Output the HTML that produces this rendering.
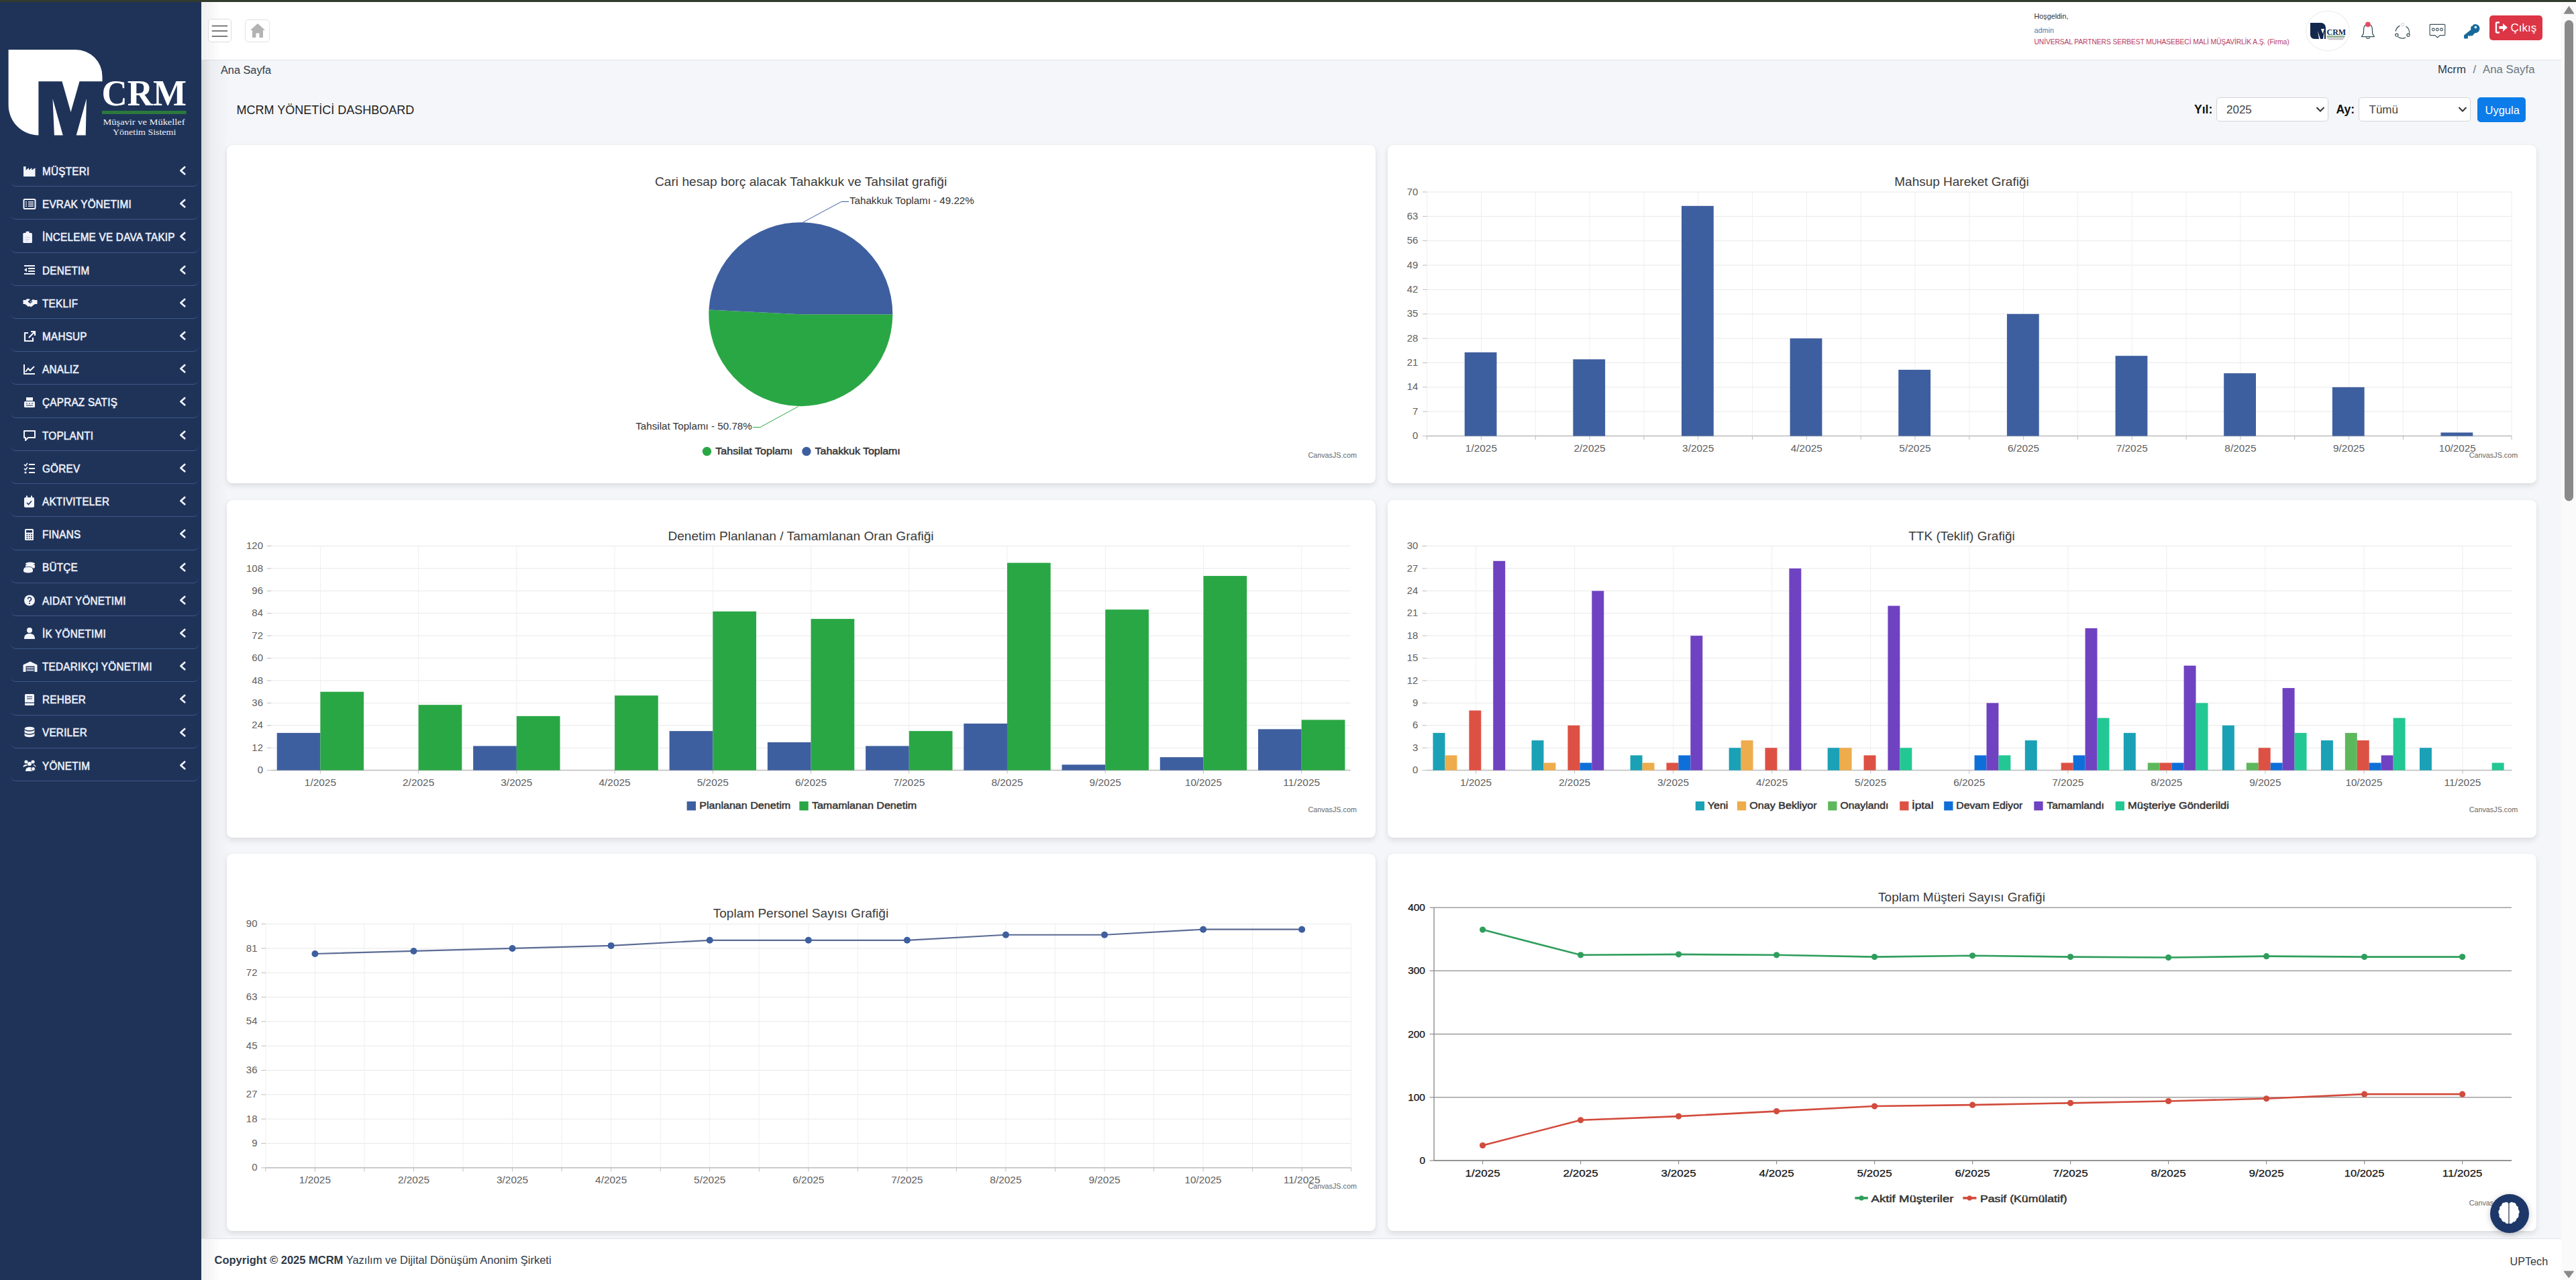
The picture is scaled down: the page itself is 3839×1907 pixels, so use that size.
<!DOCTYPE html>
<html lang="tr"><head><meta charset="utf-8"><title>MCRM</title>
<style>
*{box-sizing:border-box}
html,body{margin:0;padding:0}
body{width:3839px;height:1907px;overflow:hidden;position:relative;background:#f4f6f9;font-family:"Liberation Sans",sans-serif;}
.abs{position:absolute}
#topbar{position:absolute;left:0;top:0;width:3839px;height:3px;background:#313b2e}
#sidebar{position:absolute;left:0;top:3px;width:300px;height:1904px;background:#1f3359}
#sshadow{position:absolute;left:300px;top:90px;width:42px;height:1755px;background:linear-gradient(to right,rgba(0,0,0,.12),rgba(0,0,0,.035) 35%,rgba(0,0,0,0))}
#hshadow{position:absolute;left:300px;top:3px;width:30px;height:87px;background:linear-gradient(to right,rgba(0,0,0,.06),rgba(0,0,0,0))}
#fshadow{position:absolute;left:300px;top:1846px;width:30px;height:61px;background:linear-gradient(to right,rgba(0,0,0,.06),rgba(0,0,0,0))}
.mi{position:absolute;left:62.6px;height:20px;line-height:20px;font-size:16px;font-weight:normal;-webkit-text-stroke:0.55px #eef2fb;color:#eef2fb;white-space:nowrap;letter-spacing:0.25px;transform:scaleX(0.955);transform-origin:0 50%}
.sep{position:absolute;left:16px;width:280px;height:8px;border-bottom:1.3px solid #3d5787;border-radius:0 0 8px 8px}
.chev{position:absolute;left:266px}
.ico{position:absolute;left:34px}
#header{position:absolute;left:300px;top:3px;width:3517px;height:87px;background:#fff;border-bottom:1.5px solid #dfe2e6}
.card{position:absolute;background:#fff;border-radius:8px;box-shadow:0 0 1px rgba(0,0,0,.13),0 4px 9px rgba(0,0,0,.10)}
#footer{position:absolute;left:300px;top:1845px;width:3517px;height:62px;background:#fff;border-top:1.5px solid #dfe2e6}
#scroll{position:absolute;left:3817px;top:3px;width:22px;height:1904px;background:#fafafa}
#charts{position:absolute;left:0;top:0}
#charts text{font-family:"Liberation Sans",sans-serif}
.sel{position:absolute;top:145.4px;height:36px;width:167px;background:#fff;border:1.3px solid #d3d6da;border-radius:5px}
</style></head><body>
<div id="topbar"></div>
<div id="header"></div>
<div id="footer"></div>
<div id="sshadow"></div><div id="hshadow"></div><div id="fshadow"></div>

<!-- header left buttons -->
<div class="abs" style="left:310px;top:28px;width:35px;height:35px;border:1.3px solid #dcdcdc;border-radius:5px;background:#fff"></div>
<svg class="abs" style="left:310px;top:28px" width="35" height="35" viewBox="0 0 35 35"><path d="M5.7,10.6h23.4M5.7,18.1h23.4M5.7,26.1h23.4" stroke="#6a6a6a" stroke-width="1.7"/></svg>
<div class="abs" style="left:365px;top:29px;width:37px;height:34px;border:1.3px solid #e2e2e2;border-radius:5px;background:#fff"></div>
<svg class="abs" style="left:372px;top:34px" width="24" height="23" viewBox="0 0 24 23"><path d="M12,1 L1,11 H4 V22 H9.5 V15.5 H14.5 V22 H20 V11 H23z" fill="#b3b3b3"/></svg>

<!-- user block -->
<div class="abs" style="left:3031.5px;top:17.2px;font-size:10.8px;color:#333;line-height:14px;white-space:nowrap">Hoşgeldin,</div>
<div class="abs" style="left:3031.5px;top:37.5px;font-size:10.8px;color:#3a84b8;line-height:14px;white-space:nowrap">admin</div>
<div class="abs" style="left:3031.5px;top:56px;font-size:10.35px;color:#b93a5e;line-height:14px;white-space:nowrap;letter-spacing:-0.13px">UNİVERSAL PARTNERS SERBEST MUHASEBECİ MALİ MÜŞAVİRLİK A.Ş. (Firma)</div>

<!-- avatar -->
<div class="abs" style="left:3436px;top:16px;width:66px;height:60px;border-radius:50%;border:1.3px solid #ececec;background:#fff"></div>
<svg class="abs" style="left:3440px;top:30px" width="58" height="32" viewBox="0 0 58 32">
<path d="M3,4 H19 A7,7 0 0 1 26,11 V13 H11 V28 H9 A6,6 0 0 1 3,22z" fill="#14284d"/>
<path d="M11,13 H26 V28 H11z" fill="#14284d"/>
<path d="M14,16 L16,28 H18z M19,13 L21.5,20 L24,13z M24,16 L22,28 H24z" fill="#fff"/>
<text x="27.5" y="22" font-family="Liberation Serif" font-size="12" font-weight="bold" fill="#14284d">CRM</text>
<rect x="27.5" y="23.5" width="27" height="1.2" fill="#2d7a3a"/>
<rect x="28" y="26" width="26" height="0.9" fill="#777"/><rect x="30" y="28.3" width="22" height="0.9" fill="#999"/>
</svg>

<!-- header icons -->
<svg class="abs" style="left:3516px;top:31px" width="26" height="28" viewBox="0 0 26 28">
<path d="M3.4,23.5 L6.3,19.2 C6.6,15.5 6.4,11.5 7.1,9.6 C8,6.8 10.4,5.2 13,5.2 C15.6,5.2 18,6.8 18.9,9.6 C19.6,11.5 19.4,15.5 19.7,19.2 L22.4,23.5 Z" fill="none" stroke="#34505a" stroke-width="1.25" stroke-linejoin="round"/>
<path d="M10.2,24.6 A2.9,2.4 0 0 0 15.8,24.6" fill="none" stroke="#34505a" stroke-width="1.25"/>
<circle cx="12.9" cy="5.4" r="3.8" fill="#e84a64"/></svg>
<svg class="abs" style="left:3566px;top:31px" width="28" height="29" viewBox="0 0 28 29">
<path d="M4.2,15.7 A11,11 0 0 1 10.4,7.4 M19.5,8.2 A11,11 0 0 1 24.6,18.8 M7.7,23.9 Q13.5,27.6 19,25.1" fill="none" stroke="#3b5058" stroke-width="1.2"/>
<circle cx="14.5" cy="5.6" r="2.2" fill="none" stroke="#d8dde2" stroke-width="1.2"/>
<circle cx="5.8" cy="21.2" r="2.1" fill="#fff" stroke="#3b5058" stroke-width="1.2"/>
<circle cx="23" cy="21.2" r="2.1" fill="#fff" stroke="#3b5058" stroke-width="1.2"/></svg>
<svg class="abs" style="left:3619px;top:34px" width="28" height="25" viewBox="0 0 28 25">
<path d="M3.3,2.3 H23.6 A1.2,1.2 0 0 1 24.8,3.5 V17.4 A1.2,1.2 0 0 1 23.6,18.6 H17.3 L13.5,22 L9.7,18.6 H3.3 A1.2,1.2 0 0 1 2.1,17.4 V3.5 A1.2,1.2 0 0 1 3.3,2.3z" fill="none" stroke="#3d5058" stroke-width="1.15"/>
<circle cx="7.3" cy="10" r="1.9" fill="none" stroke="#3d5058" stroke-width="1.1"/><circle cx="13.3" cy="10" r="1.9" fill="none" stroke="#3d5058" stroke-width="1.1"/><circle cx="19.5" cy="10" r="1.9" fill="none" stroke="#3d5058" stroke-width="1.1"/></svg>
<svg class="abs" style="left:3670px;top:33px" width="28" height="26" viewBox="0 0 28 26">
<circle cx="18.8" cy="9.6" r="6.7" fill="#17699b"/>
<path d="M12.6,11 L18.2,16.6 L13.8,21 L12.3,19.5 L10.5,21.3 L9,19.8 L7.9,20.9 V24.6 H2.1 V19.4 z" fill="#17699b"/>
<circle cx="19.4" cy="7.6" r="1.9" fill="#dff4fa"/><circle cx="13.2" cy="3.2" r="2.6" fill="#fff"/></svg>
<div class="abs" style="left:3710px;top:23px;width:79px;height:37px;background:#dc3545;border-radius:5px"></div>
<svg class="abs" style="left:3718px;top:31px" width="21" height="20" viewBox="0 0 21 20">
<path d="M7,2.5 H3.5 A1.5,1.5 0 0 0 2,4 V16 A1.5,1.5 0 0 0 3.5,17.5 H7" fill="none" stroke="#fff" stroke-width="2.4"/>
<path d="M6.5,8 H12 V4 L19,10 L12,16 V12 H6.5z" fill="#fff"/></svg>
<div class="abs" style="left:3741.5px;top:30.5px;font-size:17px;line-height:22px;color:#fff;white-space:nowrap">Çıkış</div>

<!-- breadcrumb & title -->
<div class="abs" style="left:329px;top:94px;font-size:16.3px;line-height:20px;color:#2e3b4a;white-space:nowrap">Ana Sayfa</div>
<div class="abs" style="left:3633px;top:93.5px;font-size:16.8px;line-height:20px;color:#2e3b4a;white-space:nowrap">Mcrm <span style="color:#6c757d;padding:0 6px">/</span> <span style="color:#6c757d">Ana Sayfa</span></div>
<div class="abs" style="left:352.5px;top:152px;font-size:18px;line-height:24px;color:#222;white-space:nowrap">MCRM YÖNETİCİ DASHBOARD</div>

<!-- filters -->
<div class="abs" style="left:3270px;top:151.5px;font-size:17.6px;font-weight:bold;line-height:22px;color:#111;white-space:nowrap">Yıl:</div>
<div class="sel" style="left:3303.4px"></div>
<div class="abs" style="left:3318px;top:153px;font-size:17px;line-height:22px;color:#444;white-space:nowrap">2025</div>
<svg class="abs" style="left:3451px;top:158px" width="14" height="10" viewBox="0 0 14 10"><path d="M1.5,2 L7,7.5 L12.5,2" fill="none" stroke="#333" stroke-width="2"/></svg>
<div class="abs" style="left:3481.5px;top:151.5px;font-size:17.6px;font-weight:bold;line-height:22px;color:#111;white-space:nowrap">Ay:</div>
<div class="sel" style="left:3515.4px"></div>
<div class="abs" style="left:3530.5px;top:153px;font-size:17px;line-height:22px;color:#444;white-space:nowrap">Tümü</div>
<svg class="abs" style="left:3663px;top:158px" width="14" height="10" viewBox="0 0 14 10"><path d="M1.5,2 L7,7.5 L12.5,2" fill="none" stroke="#333" stroke-width="2"/></svg>
<div class="abs" style="left:3692px;top:145px;width:71.5px;height:36.7px;background:#0b7ce9;border-radius:5px"></div>
<div class="abs" style="left:3703.5px;top:152.5px;font-size:16.5px;line-height:22px;color:#fff;white-space:nowrap">Uygula</div>

<!-- cards -->
<div class="card" style="left:337.5px;top:215.5px;width:1712px;height:504px"></div>
<div class="card" style="left:2068px;top:215.5px;width:1711.5px;height:504px"></div>
<div class="card" style="left:337.5px;top:744.7px;width:1712px;height:503px"></div>
<div class="card" style="left:2068px;top:744.7px;width:1711.5px;height:503px"></div>
<div class="card" style="left:337.5px;top:1271.8px;width:1712px;height:562px"></div>
<div class="card" style="left:2068px;top:1271.8px;width:1711.5px;height:562px"></div>

<svg id="charts" width="3839" height="1907" viewBox="0 0 3839 1907" shape-rendering="auto">
<text x="975.9" y="276.7" font-size="19" fill="#3b3b3b" text-anchor="start" font-weight="normal" textLength="435.4" lengthAdjust="spacingAndGlyphs">Cari hesap borç alacak Tahakkuk ve Tahsilat grafiği</text>
<path d="M1193.3,468.2 L1330.3,468.2 A137,137 0 1 1 1056.46,461.51 Z" fill="#2aa745"/>
<path d="M1193.3,468.2 L1056.46,461.51 A137,137 0 0 1 1330.3,468.2 Z" fill="#3e5f9f"/>
<polyline points="1196.6,331.2 1253.9,300.5 1265,300.5" fill="none" stroke="#3e5f9f" stroke-width="1"/>
<polyline points="1189.4,605.8 1132.9,636.5 1121.8,636.5" fill="none" stroke="#2aa745" stroke-width="1"/>
<text x="1266" y="304.2" font-size="15.3" fill="#333" text-anchor="start" font-weight="normal" textLength="185.7" lengthAdjust="spacingAndGlyphs">Tahakkuk Toplamı - 49.22%</text>
<text x="947.2" y="640" font-size="15.3" fill="#333" text-anchor="start" font-weight="normal" textLength="173.6" lengthAdjust="spacingAndGlyphs">Tahsilat Toplamı - 50.78%</text>
<circle cx="1053.5" cy="672.5" r="6.7" fill="#2aa745"/>
<circle cx="1201.9" cy="672.5" r="6.7" fill="#3e5f9f"/>
<text x="1066.3" y="677.3" font-size="15.5" fill="#333" text-anchor="start" font-weight="normal" textLength="115" lengthAdjust="spacingAndGlyphs" stroke="#333" stroke-width="0.5">Tahsilat Toplamı</text>
<text x="1214.6" y="677.3" font-size="15.5" fill="#333" text-anchor="start" font-weight="normal" textLength="127.2" lengthAdjust="spacingAndGlyphs" stroke="#333" stroke-width="0.5">Tahakkuk Toplamı</text>
<text x="1949.4" y="681.5" font-size="10.8" fill="#666" text-anchor="start" font-weight="normal" textLength="72.5" lengthAdjust="spacingAndGlyphs">CanvasJS.com</text>
<text x="2823.3" y="276.7" font-size="19" fill="#3b3b3b" text-anchor="start" font-weight="normal" textLength="200.4" lengthAdjust="spacingAndGlyphs">Mahsup Hareket Grafiği</text>
<line x1="2126.6" y1="649.6" x2="3743" y2="649.6" stroke="#e8e8e8" stroke-width="1"/>
<line x1="2126.6" y1="613.24" x2="3743" y2="613.24" stroke="#e8e8e8" stroke-width="1"/>
<line x1="2126.6" y1="576.88" x2="3743" y2="576.88" stroke="#e8e8e8" stroke-width="1"/>
<line x1="2126.6" y1="540.52" x2="3743" y2="540.52" stroke="#e8e8e8" stroke-width="1"/>
<line x1="2126.6" y1="504.16" x2="3743" y2="504.16" stroke="#e8e8e8" stroke-width="1"/>
<line x1="2126.6" y1="467.8" x2="3743" y2="467.8" stroke="#e8e8e8" stroke-width="1"/>
<line x1="2126.6" y1="431.44" x2="3743" y2="431.44" stroke="#e8e8e8" stroke-width="1"/>
<line x1="2126.6" y1="395.08" x2="3743" y2="395.08" stroke="#e8e8e8" stroke-width="1"/>
<line x1="2126.6" y1="358.72" x2="3743" y2="358.72" stroke="#e8e8e8" stroke-width="1"/>
<line x1="2126.6" y1="322.36" x2="3743" y2="322.36" stroke="#e8e8e8" stroke-width="1"/>
<line x1="2126.6" y1="286" x2="3743" y2="286" stroke="#e8e8e8" stroke-width="1"/>
<line x1="2126.6" y1="286" x2="2126.6" y2="649.6" stroke="#efefef" stroke-width="1"/>
<line x1="2207.42" y1="286" x2="2207.42" y2="649.6" stroke="#efefef" stroke-width="1"/>
<line x1="2288.24" y1="286" x2="2288.24" y2="649.6" stroke="#efefef" stroke-width="1"/>
<line x1="2369.06" y1="286" x2="2369.06" y2="649.6" stroke="#efefef" stroke-width="1"/>
<line x1="2449.88" y1="286" x2="2449.88" y2="649.6" stroke="#efefef" stroke-width="1"/>
<line x1="2530.7" y1="286" x2="2530.7" y2="649.6" stroke="#efefef" stroke-width="1"/>
<line x1="2611.52" y1="286" x2="2611.52" y2="649.6" stroke="#efefef" stroke-width="1"/>
<line x1="2692.34" y1="286" x2="2692.34" y2="649.6" stroke="#efefef" stroke-width="1"/>
<line x1="2773.16" y1="286" x2="2773.16" y2="649.6" stroke="#efefef" stroke-width="1"/>
<line x1="2853.98" y1="286" x2="2853.98" y2="649.6" stroke="#efefef" stroke-width="1"/>
<line x1="2934.8" y1="286" x2="2934.8" y2="649.6" stroke="#efefef" stroke-width="1"/>
<line x1="3015.62" y1="286" x2="3015.62" y2="649.6" stroke="#efefef" stroke-width="1"/>
<line x1="3096.44" y1="286" x2="3096.44" y2="649.6" stroke="#efefef" stroke-width="1"/>
<line x1="3177.26" y1="286" x2="3177.26" y2="649.6" stroke="#efefef" stroke-width="1"/>
<line x1="3258.08" y1="286" x2="3258.08" y2="649.6" stroke="#efefef" stroke-width="1"/>
<line x1="3338.9" y1="286" x2="3338.9" y2="649.6" stroke="#efefef" stroke-width="1"/>
<line x1="3419.72" y1="286" x2="3419.72" y2="649.6" stroke="#efefef" stroke-width="1"/>
<line x1="3500.54" y1="286" x2="3500.54" y2="649.6" stroke="#efefef" stroke-width="1"/>
<line x1="3581.36" y1="286" x2="3581.36" y2="649.6" stroke="#efefef" stroke-width="1"/>
<line x1="3662.18" y1="286" x2="3662.18" y2="649.6" stroke="#efefef" stroke-width="1"/>
<line x1="3743" y1="286" x2="3743" y2="649.6" stroke="#efefef" stroke-width="1"/>
<text x="2113.4" y="654.2" font-size="15" fill="#606060" text-anchor="end" font-weight="normal">0</text>
<line x1="2120.1" y1="649.6" x2="2126.6" y2="649.6" stroke="#bdbdbd" stroke-width="1"/>
<text x="2113.4" y="617.84" font-size="15" fill="#606060" text-anchor="end" font-weight="normal">7</text>
<line x1="2120.1" y1="613.24" x2="2126.6" y2="613.24" stroke="#bdbdbd" stroke-width="1"/>
<text x="2113.4" y="581.48" font-size="15" fill="#606060" text-anchor="end" font-weight="normal">14</text>
<line x1="2120.1" y1="576.88" x2="2126.6" y2="576.88" stroke="#bdbdbd" stroke-width="1"/>
<text x="2113.4" y="545.12" font-size="15" fill="#606060" text-anchor="end" font-weight="normal">21</text>
<line x1="2120.1" y1="540.52" x2="2126.6" y2="540.52" stroke="#bdbdbd" stroke-width="1"/>
<text x="2113.4" y="508.76" font-size="15" fill="#606060" text-anchor="end" font-weight="normal">28</text>
<line x1="2120.1" y1="504.16" x2="2126.6" y2="504.16" stroke="#bdbdbd" stroke-width="1"/>
<text x="2113.4" y="472.4" font-size="15" fill="#606060" text-anchor="end" font-weight="normal">35</text>
<line x1="2120.1" y1="467.8" x2="2126.6" y2="467.8" stroke="#bdbdbd" stroke-width="1"/>
<text x="2113.4" y="436.04" font-size="15" fill="#606060" text-anchor="end" font-weight="normal">42</text>
<line x1="2120.1" y1="431.44" x2="2126.6" y2="431.44" stroke="#bdbdbd" stroke-width="1"/>
<text x="2113.4" y="399.68" font-size="15" fill="#606060" text-anchor="end" font-weight="normal">49</text>
<line x1="2120.1" y1="395.08" x2="2126.6" y2="395.08" stroke="#bdbdbd" stroke-width="1"/>
<text x="2113.4" y="363.32" font-size="15" fill="#606060" text-anchor="end" font-weight="normal">56</text>
<line x1="2120.1" y1="358.72" x2="2126.6" y2="358.72" stroke="#bdbdbd" stroke-width="1"/>
<text x="2113.4" y="326.96" font-size="15" fill="#606060" text-anchor="end" font-weight="normal">63</text>
<line x1="2120.1" y1="322.36" x2="2126.6" y2="322.36" stroke="#bdbdbd" stroke-width="1"/>
<text x="2113.4" y="290.6" font-size="15" fill="#606060" text-anchor="end" font-weight="normal">70</text>
<line x1="2120.1" y1="286" x2="2126.6" y2="286" stroke="#bdbdbd" stroke-width="1"/>
<line x1="2126.6" y1="649.6" x2="2126.6" y2="655.1" stroke="#bdbdbd" stroke-width="1"/>
<line x1="2207.42" y1="649.6" x2="2207.42" y2="655.1" stroke="#bdbdbd" stroke-width="1"/>
<line x1="2288.24" y1="649.6" x2="2288.24" y2="655.1" stroke="#bdbdbd" stroke-width="1"/>
<line x1="2369.06" y1="649.6" x2="2369.06" y2="655.1" stroke="#bdbdbd" stroke-width="1"/>
<line x1="2449.88" y1="649.6" x2="2449.88" y2="655.1" stroke="#bdbdbd" stroke-width="1"/>
<line x1="2530.7" y1="649.6" x2="2530.7" y2="655.1" stroke="#bdbdbd" stroke-width="1"/>
<line x1="2611.52" y1="649.6" x2="2611.52" y2="655.1" stroke="#bdbdbd" stroke-width="1"/>
<line x1="2692.34" y1="649.6" x2="2692.34" y2="655.1" stroke="#bdbdbd" stroke-width="1"/>
<line x1="2773.16" y1="649.6" x2="2773.16" y2="655.1" stroke="#bdbdbd" stroke-width="1"/>
<line x1="2853.98" y1="649.6" x2="2853.98" y2="655.1" stroke="#bdbdbd" stroke-width="1"/>
<line x1="2934.8" y1="649.6" x2="2934.8" y2="655.1" stroke="#bdbdbd" stroke-width="1"/>
<line x1="3015.62" y1="649.6" x2="3015.62" y2="655.1" stroke="#bdbdbd" stroke-width="1"/>
<line x1="3096.44" y1="649.6" x2="3096.44" y2="655.1" stroke="#bdbdbd" stroke-width="1"/>
<line x1="3177.26" y1="649.6" x2="3177.26" y2="655.1" stroke="#bdbdbd" stroke-width="1"/>
<line x1="3258.08" y1="649.6" x2="3258.08" y2="655.1" stroke="#bdbdbd" stroke-width="1"/>
<line x1="3338.9" y1="649.6" x2="3338.9" y2="655.1" stroke="#bdbdbd" stroke-width="1"/>
<line x1="3419.72" y1="649.6" x2="3419.72" y2="655.1" stroke="#bdbdbd" stroke-width="1"/>
<line x1="3500.54" y1="649.6" x2="3500.54" y2="655.1" stroke="#bdbdbd" stroke-width="1"/>
<line x1="3581.36" y1="649.6" x2="3581.36" y2="655.1" stroke="#bdbdbd" stroke-width="1"/>
<line x1="3662.18" y1="649.6" x2="3662.18" y2="655.1" stroke="#bdbdbd" stroke-width="1"/>
<line x1="3743" y1="649.6" x2="3743" y2="655.1" stroke="#bdbdbd" stroke-width="1"/>
<line x1="2126.6" y1="649.6" x2="3743" y2="649.6" stroke="#bdbdbd" stroke-width="1.5"/>
<rect x="2182.72" y="524.94" width="47.8" height="124.66" fill="#3e5f9f"/>
<text x="2207.42" y="673.1" font-size="14.5" fill="#606060" text-anchor="middle" font-weight="normal" textLength="47.2" lengthAdjust="spacingAndGlyphs">1/2025</text>
<rect x="2344.36" y="535.33" width="47.8" height="114.27" fill="#3e5f9f"/>
<text x="2369.06" y="673.1" font-size="14.5" fill="#606060" text-anchor="middle" font-weight="normal" textLength="47.2" lengthAdjust="spacingAndGlyphs">2/2025</text>
<rect x="2506" y="306.78" width="47.8" height="342.82" fill="#3e5f9f"/>
<text x="2530.7" y="673.1" font-size="14.5" fill="#606060" text-anchor="middle" font-weight="normal" textLength="47.2" lengthAdjust="spacingAndGlyphs">3/2025</text>
<rect x="2667.64" y="504.16" width="47.8" height="145.44" fill="#3e5f9f"/>
<text x="2692.34" y="673.1" font-size="14.5" fill="#606060" text-anchor="middle" font-weight="normal" textLength="47.2" lengthAdjust="spacingAndGlyphs">4/2025</text>
<rect x="2829.28" y="550.91" width="47.8" height="98.69" fill="#3e5f9f"/>
<text x="2853.98" y="673.1" font-size="14.5" fill="#606060" text-anchor="middle" font-weight="normal" textLength="47.2" lengthAdjust="spacingAndGlyphs">5/2025</text>
<rect x="2990.92" y="467.8" width="47.8" height="181.8" fill="#3e5f9f"/>
<text x="3015.62" y="673.1" font-size="14.5" fill="#606060" text-anchor="middle" font-weight="normal" textLength="47.2" lengthAdjust="spacingAndGlyphs">6/2025</text>
<rect x="3152.56" y="530.13" width="47.8" height="119.47" fill="#3e5f9f"/>
<text x="3177.26" y="673.1" font-size="14.5" fill="#606060" text-anchor="middle" font-weight="normal" textLength="47.2" lengthAdjust="spacingAndGlyphs">7/2025</text>
<rect x="3314.2" y="556.1" width="47.8" height="93.5" fill="#3e5f9f"/>
<text x="3338.9" y="673.1" font-size="14.5" fill="#606060" text-anchor="middle" font-weight="normal" textLength="47.2" lengthAdjust="spacingAndGlyphs">8/2025</text>
<rect x="3475.84" y="576.88" width="47.8" height="72.72" fill="#3e5f9f"/>
<text x="3500.54" y="673.1" font-size="14.5" fill="#606060" text-anchor="middle" font-weight="normal" textLength="47.2" lengthAdjust="spacingAndGlyphs">9/2025</text>
<rect x="3637.48" y="644.41" width="47.8" height="5.19" fill="#3e5f9f"/>
<text x="3662.18" y="673.1" font-size="14.5" fill="#606060" text-anchor="middle" font-weight="normal" textLength="55" lengthAdjust="spacingAndGlyphs">10/2025</text>
<text x="3679.7" y="681.5" font-size="10.8" fill="#666" text-anchor="start" font-weight="normal" textLength="72.5" lengthAdjust="spacingAndGlyphs">CanvasJS.com</text>
<text x="995.4" y="804.8" font-size="19" fill="#3b3b3b" text-anchor="start" font-weight="normal" textLength="396.2" lengthAdjust="spacingAndGlyphs">Denetim Planlanan / Tamamlanan Oran Grafiği</text>
<line x1="404.3" y1="1147.6" x2="2012.8" y2="1147.6" stroke="#e8e8e8" stroke-width="1"/>
<line x1="404.3" y1="1114.19" x2="2012.8" y2="1114.19" stroke="#e8e8e8" stroke-width="1"/>
<line x1="404.3" y1="1080.78" x2="2012.8" y2="1080.78" stroke="#e8e8e8" stroke-width="1"/>
<line x1="404.3" y1="1047.37" x2="2012.8" y2="1047.37" stroke="#e8e8e8" stroke-width="1"/>
<line x1="404.3" y1="1013.96" x2="2012.8" y2="1013.96" stroke="#e8e8e8" stroke-width="1"/>
<line x1="404.3" y1="980.55" x2="2012.8" y2="980.55" stroke="#e8e8e8" stroke-width="1"/>
<line x1="404.3" y1="947.14" x2="2012.8" y2="947.14" stroke="#e8e8e8" stroke-width="1"/>
<line x1="404.3" y1="913.73" x2="2012.8" y2="913.73" stroke="#e8e8e8" stroke-width="1"/>
<line x1="404.3" y1="880.32" x2="2012.8" y2="880.32" stroke="#e8e8e8" stroke-width="1"/>
<line x1="404.3" y1="846.91" x2="2012.8" y2="846.91" stroke="#e8e8e8" stroke-width="1"/>
<line x1="404.3" y1="813.5" x2="2012.8" y2="813.5" stroke="#e8e8e8" stroke-width="1"/>
<line x1="477.41" y1="813.5" x2="477.41" y2="1147.6" stroke="#efefef" stroke-width="1"/>
<line x1="623.64" y1="813.5" x2="623.64" y2="1147.6" stroke="#efefef" stroke-width="1"/>
<line x1="769.87" y1="813.5" x2="769.87" y2="1147.6" stroke="#efefef" stroke-width="1"/>
<line x1="916.1" y1="813.5" x2="916.1" y2="1147.6" stroke="#efefef" stroke-width="1"/>
<line x1="1062.32" y1="813.5" x2="1062.32" y2="1147.6" stroke="#efefef" stroke-width="1"/>
<line x1="1208.55" y1="813.5" x2="1208.55" y2="1147.6" stroke="#efefef" stroke-width="1"/>
<line x1="1354.78" y1="813.5" x2="1354.78" y2="1147.6" stroke="#efefef" stroke-width="1"/>
<line x1="1501" y1="813.5" x2="1501" y2="1147.6" stroke="#efefef" stroke-width="1"/>
<line x1="1647.23" y1="813.5" x2="1647.23" y2="1147.6" stroke="#efefef" stroke-width="1"/>
<line x1="1793.46" y1="813.5" x2="1793.46" y2="1147.6" stroke="#efefef" stroke-width="1"/>
<line x1="1939.69" y1="813.5" x2="1939.69" y2="1147.6" stroke="#efefef" stroke-width="1"/>
<text x="392" y="1152.2" font-size="15" fill="#606060" text-anchor="end" font-weight="normal">0</text>
<line x1="397.8" y1="1147.6" x2="404.3" y2="1147.6" stroke="#bdbdbd" stroke-width="1"/>
<text x="392" y="1118.79" font-size="15" fill="#606060" text-anchor="end" font-weight="normal">12</text>
<line x1="397.8" y1="1114.19" x2="404.3" y2="1114.19" stroke="#bdbdbd" stroke-width="1"/>
<text x="392" y="1085.38" font-size="15" fill="#606060" text-anchor="end" font-weight="normal">24</text>
<line x1="397.8" y1="1080.78" x2="404.3" y2="1080.78" stroke="#bdbdbd" stroke-width="1"/>
<text x="392" y="1051.97" font-size="15" fill="#606060" text-anchor="end" font-weight="normal">36</text>
<line x1="397.8" y1="1047.37" x2="404.3" y2="1047.37" stroke="#bdbdbd" stroke-width="1"/>
<text x="392" y="1018.56" font-size="15" fill="#606060" text-anchor="end" font-weight="normal">48</text>
<line x1="397.8" y1="1013.96" x2="404.3" y2="1013.96" stroke="#bdbdbd" stroke-width="1"/>
<text x="392" y="985.15" font-size="15" fill="#606060" text-anchor="end" font-weight="normal">60</text>
<line x1="397.8" y1="980.55" x2="404.3" y2="980.55" stroke="#bdbdbd" stroke-width="1"/>
<text x="392" y="951.74" font-size="15" fill="#606060" text-anchor="end" font-weight="normal">72</text>
<line x1="397.8" y1="947.14" x2="404.3" y2="947.14" stroke="#bdbdbd" stroke-width="1"/>
<text x="392" y="918.33" font-size="15" fill="#606060" text-anchor="end" font-weight="normal">84</text>
<line x1="397.8" y1="913.73" x2="404.3" y2="913.73" stroke="#bdbdbd" stroke-width="1"/>
<text x="392" y="884.92" font-size="15" fill="#606060" text-anchor="end" font-weight="normal">96</text>
<line x1="397.8" y1="880.32" x2="404.3" y2="880.32" stroke="#bdbdbd" stroke-width="1"/>
<text x="392" y="851.51" font-size="15" fill="#606060" text-anchor="end" font-weight="normal">108</text>
<line x1="397.8" y1="846.91" x2="404.3" y2="846.91" stroke="#bdbdbd" stroke-width="1"/>
<text x="392" y="818.1" font-size="15" fill="#606060" text-anchor="end" font-weight="normal">120</text>
<line x1="397.8" y1="813.5" x2="404.3" y2="813.5" stroke="#bdbdbd" stroke-width="1"/>
<line x1="404.3" y1="1147.6" x2="2012.8" y2="1147.6" stroke="#bdbdbd" stroke-width="1.5"/>
<line x1="477.41" y1="1147.6" x2="477.41" y2="1152.6" stroke="#bdbdbd" stroke-width="1"/>
<rect x="412.71" y="1091.92" width="64.7" height="55.68" fill="#3e5f9f"/>
<rect x="477.41" y="1030.66" width="64.7" height="116.93" fill="#2aa745"/>
<text x="477.41" y="1170.6" font-size="14.5" fill="#606060" text-anchor="middle" font-weight="normal" textLength="47.2" lengthAdjust="spacingAndGlyphs">1/2025</text>
<line x1="623.64" y1="1147.6" x2="623.64" y2="1152.6" stroke="#bdbdbd" stroke-width="1"/>
<rect x="623.64" y="1050.15" width="64.7" height="97.45" fill="#2aa745"/>
<text x="623.64" y="1170.6" font-size="14.5" fill="#606060" text-anchor="middle" font-weight="normal" textLength="47.2" lengthAdjust="spacingAndGlyphs">2/2025</text>
<line x1="769.87" y1="1147.6" x2="769.87" y2="1152.6" stroke="#bdbdbd" stroke-width="1"/>
<rect x="705.17" y="1111.41" width="64.7" height="36.19" fill="#3e5f9f"/>
<rect x="769.87" y="1066.86" width="64.7" height="80.74" fill="#2aa745"/>
<text x="769.87" y="1170.6" font-size="14.5" fill="#606060" text-anchor="middle" font-weight="normal" textLength="47.2" lengthAdjust="spacingAndGlyphs">3/2025</text>
<line x1="916.1" y1="1147.6" x2="916.1" y2="1152.6" stroke="#bdbdbd" stroke-width="1"/>
<rect x="916.1" y="1036.23" width="64.7" height="111.37" fill="#2aa745"/>
<text x="916.1" y="1170.6" font-size="14.5" fill="#606060" text-anchor="middle" font-weight="normal" textLength="47.2" lengthAdjust="spacingAndGlyphs">4/2025</text>
<line x1="1062.32" y1="1147.6" x2="1062.32" y2="1152.6" stroke="#bdbdbd" stroke-width="1"/>
<rect x="997.62" y="1089.13" width="64.7" height="58.47" fill="#3e5f9f"/>
<rect x="1062.32" y="910.95" width="64.7" height="236.65" fill="#2aa745"/>
<text x="1062.32" y="1170.6" font-size="14.5" fill="#606060" text-anchor="middle" font-weight="normal" textLength="47.2" lengthAdjust="spacingAndGlyphs">5/2025</text>
<line x1="1208.55" y1="1147.6" x2="1208.55" y2="1152.6" stroke="#bdbdbd" stroke-width="1"/>
<rect x="1143.85" y="1105.84" width="64.7" height="41.76" fill="#3e5f9f"/>
<rect x="1208.55" y="922.08" width="64.7" height="225.52" fill="#2aa745"/>
<text x="1208.55" y="1170.6" font-size="14.5" fill="#606060" text-anchor="middle" font-weight="normal" textLength="47.2" lengthAdjust="spacingAndGlyphs">6/2025</text>
<line x1="1354.78" y1="1147.6" x2="1354.78" y2="1152.6" stroke="#bdbdbd" stroke-width="1"/>
<rect x="1290.08" y="1111.41" width="64.7" height="36.19" fill="#3e5f9f"/>
<rect x="1354.78" y="1089.13" width="64.7" height="58.47" fill="#2aa745"/>
<text x="1354.78" y="1170.6" font-size="14.5" fill="#606060" text-anchor="middle" font-weight="normal" textLength="47.2" lengthAdjust="spacingAndGlyphs">7/2025</text>
<line x1="1501" y1="1147.6" x2="1501" y2="1152.6" stroke="#bdbdbd" stroke-width="1"/>
<rect x="1436.3" y="1078" width="64.7" height="69.6" fill="#3e5f9f"/>
<rect x="1501" y="838.56" width="64.7" height="309.04" fill="#2aa745"/>
<text x="1501" y="1170.6" font-size="14.5" fill="#606060" text-anchor="middle" font-weight="normal" textLength="47.2" lengthAdjust="spacingAndGlyphs">8/2025</text>
<line x1="1647.23" y1="1147.6" x2="1647.23" y2="1152.6" stroke="#bdbdbd" stroke-width="1"/>
<rect x="1582.53" y="1139.25" width="64.7" height="8.35" fill="#3e5f9f"/>
<rect x="1647.23" y="908.16" width="64.7" height="239.44" fill="#2aa745"/>
<text x="1647.23" y="1170.6" font-size="14.5" fill="#606060" text-anchor="middle" font-weight="normal" textLength="47.2" lengthAdjust="spacingAndGlyphs">9/2025</text>
<line x1="1793.46" y1="1147.6" x2="1793.46" y2="1152.6" stroke="#bdbdbd" stroke-width="1"/>
<rect x="1728.76" y="1128.11" width="64.7" height="19.49" fill="#3e5f9f"/>
<rect x="1793.46" y="858.05" width="64.7" height="289.55" fill="#2aa745"/>
<text x="1793.46" y="1170.6" font-size="14.5" fill="#606060" text-anchor="middle" font-weight="normal" textLength="55" lengthAdjust="spacingAndGlyphs">10/2025</text>
<line x1="1939.69" y1="1147.6" x2="1939.69" y2="1152.6" stroke="#bdbdbd" stroke-width="1"/>
<rect x="1874.99" y="1086.35" width="64.7" height="61.25" fill="#3e5f9f"/>
<rect x="1939.69" y="1072.43" width="64.7" height="75.17" fill="#2aa745"/>
<text x="1939.69" y="1170.6" font-size="14.5" fill="#606060" text-anchor="middle" font-weight="normal" textLength="55" lengthAdjust="spacingAndGlyphs">11/2025</text>
<rect x="1023.6" y="1194" width="13.4" height="13.4" fill="#3e5f9f"/>
<rect x="1191.3" y="1194" width="13.4" height="13.4" fill="#2aa745"/>
<text x="1042.2" y="1205.4" font-size="15.5" fill="#333" text-anchor="start" font-weight="normal" textLength="136" lengthAdjust="spacingAndGlyphs" stroke="#333" stroke-width="0.5">Planlanan Denetim</text>
<text x="1209.9" y="1205.4" font-size="15.5" fill="#333" text-anchor="start" font-weight="normal" textLength="156.2" lengthAdjust="spacingAndGlyphs" stroke="#333" stroke-width="0.5">Tamamlanan Denetim</text>
<text x="1949.4" y="1210" font-size="10.8" fill="#666" text-anchor="start" font-weight="normal" textLength="72.5" lengthAdjust="spacingAndGlyphs">CanvasJS.com</text>
<text x="2844.2" y="804.7" font-size="19" fill="#3b3b3b" text-anchor="start" font-weight="normal" textLength="158.6" lengthAdjust="spacingAndGlyphs">TTK (Teklif) Grafiği</text>
<line x1="2126" y1="1147.6" x2="3743.5" y2="1147.6" stroke="#e8e8e8" stroke-width="1"/>
<line x1="2126" y1="1114.19" x2="3743.5" y2="1114.19" stroke="#e8e8e8" stroke-width="1"/>
<line x1="2126" y1="1080.78" x2="3743.5" y2="1080.78" stroke="#e8e8e8" stroke-width="1"/>
<line x1="2126" y1="1047.37" x2="3743.5" y2="1047.37" stroke="#e8e8e8" stroke-width="1"/>
<line x1="2126" y1="1013.96" x2="3743.5" y2="1013.96" stroke="#e8e8e8" stroke-width="1"/>
<line x1="2126" y1="980.55" x2="3743.5" y2="980.55" stroke="#e8e8e8" stroke-width="1"/>
<line x1="2126" y1="947.14" x2="3743.5" y2="947.14" stroke="#e8e8e8" stroke-width="1"/>
<line x1="2126" y1="913.73" x2="3743.5" y2="913.73" stroke="#e8e8e8" stroke-width="1"/>
<line x1="2126" y1="880.32" x2="3743.5" y2="880.32" stroke="#e8e8e8" stroke-width="1"/>
<line x1="2126" y1="846.91" x2="3743.5" y2="846.91" stroke="#e8e8e8" stroke-width="1"/>
<line x1="2126" y1="813.5" x2="3743.5" y2="813.5" stroke="#e8e8e8" stroke-width="1"/>
<line x1="2199.52" y1="813.5" x2="2199.52" y2="1147.6" stroke="#efefef" stroke-width="1"/>
<line x1="2346.57" y1="813.5" x2="2346.57" y2="1147.6" stroke="#efefef" stroke-width="1"/>
<line x1="2493.61" y1="813.5" x2="2493.61" y2="1147.6" stroke="#efefef" stroke-width="1"/>
<line x1="2640.66" y1="813.5" x2="2640.66" y2="1147.6" stroke="#efefef" stroke-width="1"/>
<line x1="2787.7" y1="813.5" x2="2787.7" y2="1147.6" stroke="#efefef" stroke-width="1"/>
<line x1="2934.75" y1="813.5" x2="2934.75" y2="1147.6" stroke="#efefef" stroke-width="1"/>
<line x1="3081.8" y1="813.5" x2="3081.8" y2="1147.6" stroke="#efefef" stroke-width="1"/>
<line x1="3228.84" y1="813.5" x2="3228.84" y2="1147.6" stroke="#efefef" stroke-width="1"/>
<line x1="3375.89" y1="813.5" x2="3375.89" y2="1147.6" stroke="#efefef" stroke-width="1"/>
<line x1="3522.93" y1="813.5" x2="3522.93" y2="1147.6" stroke="#efefef" stroke-width="1"/>
<line x1="3669.98" y1="813.5" x2="3669.98" y2="1147.6" stroke="#efefef" stroke-width="1"/>
<text x="2113.4" y="1152.2" font-size="15" fill="#606060" text-anchor="end" font-weight="normal">0</text>
<line x1="2119.5" y1="1147.6" x2="2126" y2="1147.6" stroke="#bdbdbd" stroke-width="1"/>
<text x="2113.4" y="1118.79" font-size="15" fill="#606060" text-anchor="end" font-weight="normal">3</text>
<line x1="2119.5" y1="1114.19" x2="2126" y2="1114.19" stroke="#bdbdbd" stroke-width="1"/>
<text x="2113.4" y="1085.38" font-size="15" fill="#606060" text-anchor="end" font-weight="normal">6</text>
<line x1="2119.5" y1="1080.78" x2="2126" y2="1080.78" stroke="#bdbdbd" stroke-width="1"/>
<text x="2113.4" y="1051.97" font-size="15" fill="#606060" text-anchor="end" font-weight="normal">9</text>
<line x1="2119.5" y1="1047.37" x2="2126" y2="1047.37" stroke="#bdbdbd" stroke-width="1"/>
<text x="2113.4" y="1018.56" font-size="15" fill="#606060" text-anchor="end" font-weight="normal">12</text>
<line x1="2119.5" y1="1013.96" x2="2126" y2="1013.96" stroke="#bdbdbd" stroke-width="1"/>
<text x="2113.4" y="985.15" font-size="15" fill="#606060" text-anchor="end" font-weight="normal">15</text>
<line x1="2119.5" y1="980.55" x2="2126" y2="980.55" stroke="#bdbdbd" stroke-width="1"/>
<text x="2113.4" y="951.74" font-size="15" fill="#606060" text-anchor="end" font-weight="normal">18</text>
<line x1="2119.5" y1="947.14" x2="2126" y2="947.14" stroke="#bdbdbd" stroke-width="1"/>
<text x="2113.4" y="918.33" font-size="15" fill="#606060" text-anchor="end" font-weight="normal">21</text>
<line x1="2119.5" y1="913.73" x2="2126" y2="913.73" stroke="#bdbdbd" stroke-width="1"/>
<text x="2113.4" y="884.92" font-size="15" fill="#606060" text-anchor="end" font-weight="normal">24</text>
<line x1="2119.5" y1="880.32" x2="2126" y2="880.32" stroke="#bdbdbd" stroke-width="1"/>
<text x="2113.4" y="851.51" font-size="15" fill="#606060" text-anchor="end" font-weight="normal">27</text>
<line x1="2119.5" y1="846.91" x2="2126" y2="846.91" stroke="#bdbdbd" stroke-width="1"/>
<text x="2113.4" y="818.1" font-size="15" fill="#606060" text-anchor="end" font-weight="normal">30</text>
<line x1="2119.5" y1="813.5" x2="2126" y2="813.5" stroke="#bdbdbd" stroke-width="1"/>
<line x1="2126" y1="1147.6" x2="3743.5" y2="1147.6" stroke="#bdbdbd" stroke-width="1.5"/>
<line x1="2199.52" y1="1147.6" x2="2199.52" y2="1152.6" stroke="#bdbdbd" stroke-width="1"/>
<rect x="2135.52" y="1091.92" width="17.95" height="55.68" fill="#1aa1b6"/>
<rect x="2153.47" y="1125.33" width="17.95" height="22.27" fill="#eeac4c"/>
<rect x="2189.37" y="1058.51" width="17.95" height="89.09" fill="#dd5144"/>
<rect x="2225.27" y="835.77" width="17.95" height="311.83" fill="#6f42c1"/>
<text x="2199.52" y="1170.8" font-size="14.5" fill="#606060" text-anchor="middle" font-weight="normal" textLength="47.2" lengthAdjust="spacingAndGlyphs">1/2025</text>
<line x1="2346.57" y1="1147.6" x2="2346.57" y2="1152.6" stroke="#bdbdbd" stroke-width="1"/>
<rect x="2282.57" y="1103.05" width="17.95" height="44.55" fill="#1aa1b6"/>
<rect x="2300.52" y="1136.46" width="17.95" height="11.14" fill="#eeac4c"/>
<rect x="2336.42" y="1080.78" width="17.95" height="66.82" fill="#dd5144"/>
<rect x="2354.37" y="1136.46" width="17.95" height="11.14" fill="#0f6fd9"/>
<rect x="2372.32" y="880.32" width="17.95" height="267.28" fill="#6f42c1"/>
<text x="2346.57" y="1170.8" font-size="14.5" fill="#606060" text-anchor="middle" font-weight="normal" textLength="47.2" lengthAdjust="spacingAndGlyphs">2/2025</text>
<line x1="2493.61" y1="1147.6" x2="2493.61" y2="1152.6" stroke="#bdbdbd" stroke-width="1"/>
<rect x="2429.61" y="1125.33" width="17.95" height="22.27" fill="#1aa1b6"/>
<rect x="2447.56" y="1136.46" width="17.95" height="11.14" fill="#eeac4c"/>
<rect x="2483.46" y="1136.46" width="17.95" height="11.14" fill="#dd5144"/>
<rect x="2501.41" y="1125.33" width="17.95" height="22.27" fill="#0f6fd9"/>
<rect x="2519.36" y="947.14" width="17.95" height="200.46" fill="#6f42c1"/>
<text x="2493.61" y="1170.8" font-size="14.5" fill="#606060" text-anchor="middle" font-weight="normal" textLength="47.2" lengthAdjust="spacingAndGlyphs">3/2025</text>
<line x1="2640.66" y1="1147.6" x2="2640.66" y2="1152.6" stroke="#bdbdbd" stroke-width="1"/>
<rect x="2576.66" y="1114.19" width="17.95" height="33.41" fill="#1aa1b6"/>
<rect x="2594.61" y="1103.05" width="17.95" height="44.55" fill="#eeac4c"/>
<rect x="2630.51" y="1114.19" width="17.95" height="33.41" fill="#dd5144"/>
<rect x="2666.41" y="846.91" width="17.95" height="300.69" fill="#6f42c1"/>
<text x="2640.66" y="1170.8" font-size="14.5" fill="#606060" text-anchor="middle" font-weight="normal" textLength="47.2" lengthAdjust="spacingAndGlyphs">4/2025</text>
<line x1="2787.7" y1="1147.6" x2="2787.7" y2="1152.6" stroke="#bdbdbd" stroke-width="1"/>
<rect x="2723.7" y="1114.19" width="17.95" height="33.41" fill="#1aa1b6"/>
<rect x="2741.65" y="1114.19" width="17.95" height="33.41" fill="#eeac4c"/>
<rect x="2777.55" y="1125.33" width="17.95" height="22.27" fill="#dd5144"/>
<rect x="2813.45" y="902.59" width="17.95" height="245.01" fill="#6f42c1"/>
<rect x="2831.4" y="1114.19" width="17.95" height="33.41" fill="#23c794"/>
<text x="2787.7" y="1170.8" font-size="14.5" fill="#606060" text-anchor="middle" font-weight="normal" textLength="47.2" lengthAdjust="spacingAndGlyphs">5/2025</text>
<line x1="2934.75" y1="1147.6" x2="2934.75" y2="1152.6" stroke="#bdbdbd" stroke-width="1"/>
<rect x="2942.55" y="1125.33" width="17.95" height="22.27" fill="#0f6fd9"/>
<rect x="2960.5" y="1047.37" width="17.95" height="100.23" fill="#6f42c1"/>
<rect x="2978.45" y="1125.33" width="17.95" height="22.27" fill="#23c794"/>
<text x="2934.75" y="1170.8" font-size="14.5" fill="#606060" text-anchor="middle" font-weight="normal" textLength="47.2" lengthAdjust="spacingAndGlyphs">6/2025</text>
<line x1="3081.8" y1="1147.6" x2="3081.8" y2="1152.6" stroke="#bdbdbd" stroke-width="1"/>
<rect x="3017.8" y="1103.05" width="17.95" height="44.55" fill="#1aa1b6"/>
<rect x="3071.65" y="1136.46" width="17.95" height="11.14" fill="#dd5144"/>
<rect x="3089.6" y="1125.33" width="17.95" height="22.27" fill="#0f6fd9"/>
<rect x="3107.55" y="936" width="17.95" height="211.6" fill="#6f42c1"/>
<rect x="3125.5" y="1069.64" width="17.95" height="77.96" fill="#23c794"/>
<text x="3081.8" y="1170.8" font-size="14.5" fill="#606060" text-anchor="middle" font-weight="normal" textLength="47.2" lengthAdjust="spacingAndGlyphs">7/2025</text>
<line x1="3228.84" y1="1147.6" x2="3228.84" y2="1152.6" stroke="#bdbdbd" stroke-width="1"/>
<rect x="3164.84" y="1091.92" width="17.95" height="55.68" fill="#1aa1b6"/>
<rect x="3200.74" y="1136.46" width="17.95" height="11.14" fill="#5db85b"/>
<rect x="3218.69" y="1136.46" width="17.95" height="11.14" fill="#dd5144"/>
<rect x="3236.64" y="1136.46" width="17.95" height="11.14" fill="#0f6fd9"/>
<rect x="3254.59" y="991.69" width="17.95" height="155.91" fill="#6f42c1"/>
<rect x="3272.54" y="1047.37" width="17.95" height="100.23" fill="#23c794"/>
<text x="3228.84" y="1170.8" font-size="14.5" fill="#606060" text-anchor="middle" font-weight="normal" textLength="47.2" lengthAdjust="spacingAndGlyphs">8/2025</text>
<line x1="3375.89" y1="1147.6" x2="3375.89" y2="1152.6" stroke="#bdbdbd" stroke-width="1"/>
<rect x="3311.89" y="1080.78" width="17.95" height="66.82" fill="#1aa1b6"/>
<rect x="3347.79" y="1136.46" width="17.95" height="11.14" fill="#5db85b"/>
<rect x="3365.74" y="1114.19" width="17.95" height="33.41" fill="#dd5144"/>
<rect x="3383.69" y="1136.46" width="17.95" height="11.14" fill="#0f6fd9"/>
<rect x="3401.64" y="1025.1" width="17.95" height="122.5" fill="#6f42c1"/>
<rect x="3419.59" y="1091.92" width="17.95" height="55.68" fill="#23c794"/>
<text x="3375.89" y="1170.8" font-size="14.5" fill="#606060" text-anchor="middle" font-weight="normal" textLength="47.2" lengthAdjust="spacingAndGlyphs">9/2025</text>
<line x1="3522.93" y1="1147.6" x2="3522.93" y2="1152.6" stroke="#bdbdbd" stroke-width="1"/>
<rect x="3458.93" y="1103.05" width="17.95" height="44.55" fill="#1aa1b6"/>
<rect x="3494.83" y="1091.92" width="17.95" height="55.68" fill="#5db85b"/>
<rect x="3512.78" y="1103.05" width="17.95" height="44.55" fill="#dd5144"/>
<rect x="3530.73" y="1136.46" width="17.95" height="11.14" fill="#0f6fd9"/>
<rect x="3548.68" y="1125.33" width="17.95" height="22.27" fill="#6f42c1"/>
<rect x="3566.63" y="1069.64" width="17.95" height="77.96" fill="#23c794"/>
<text x="3522.93" y="1170.8" font-size="14.5" fill="#606060" text-anchor="middle" font-weight="normal" textLength="55" lengthAdjust="spacingAndGlyphs">10/2025</text>
<line x1="3669.98" y1="1147.6" x2="3669.98" y2="1152.6" stroke="#bdbdbd" stroke-width="1"/>
<rect x="3605.98" y="1114.19" width="17.95" height="33.41" fill="#1aa1b6"/>
<rect x="3713.68" y="1136.46" width="17.95" height="11.14" fill="#23c794"/>
<text x="3669.98" y="1170.8" font-size="14.5" fill="#606060" text-anchor="middle" font-weight="normal" textLength="55" lengthAdjust="spacingAndGlyphs">11/2025</text>
<rect x="2526.8" y="1194" width="13.3" height="13.4" fill="#1aa1b6"/>
<text x="2544.8" y="1205.4" font-size="15.5" fill="#333" text-anchor="start" font-weight="normal" textLength="30.6" lengthAdjust="spacingAndGlyphs" stroke="#333" stroke-width="0.5">Yeni</text>
<rect x="2588.9" y="1194" width="13.3" height="13.4" fill="#eeac4c"/>
<text x="2607.3" y="1205.4" font-size="15.5" fill="#333" text-anchor="start" font-weight="normal" textLength="100.2" lengthAdjust="spacingAndGlyphs" stroke="#333" stroke-width="0.5">Onay Bekliyor</text>
<rect x="2724.2" y="1194" width="13.3" height="13.4" fill="#5db85b"/>
<text x="2742.6" y="1205.4" font-size="15.5" fill="#333" text-anchor="start" font-weight="normal" textLength="71.8" lengthAdjust="spacingAndGlyphs" stroke="#333" stroke-width="0.5">Onaylandı</text>
<rect x="2831.2" y="1194" width="13.3" height="13.4" fill="#dd5144"/>
<text x="2848.9" y="1205.4" font-size="15.5" fill="#333" text-anchor="start" font-weight="normal" textLength="32.6" lengthAdjust="spacingAndGlyphs" stroke="#333" stroke-width="0.5">İptal</text>
<rect x="2897.2" y="1194" width="13.3" height="13.4" fill="#0f6fd9"/>
<text x="2915.3" y="1205.4" font-size="15.5" fill="#333" text-anchor="start" font-weight="normal" textLength="98.9" lengthAdjust="spacingAndGlyphs" stroke="#333" stroke-width="0.5">Devam Ediyor</text>
<rect x="3031.3" y="1194" width="13.3" height="13.4" fill="#6f42c1"/>
<text x="3050.3" y="1205.4" font-size="15.5" fill="#333" text-anchor="start" font-weight="normal" textLength="85.7" lengthAdjust="spacingAndGlyphs" stroke="#333" stroke-width="0.5">Tamamlandı</text>
<rect x="3152.7" y="1194" width="13.3" height="13.4" fill="#23c794"/>
<text x="3171.1" y="1205.4" font-size="15.5" fill="#333" text-anchor="start" font-weight="normal" textLength="150.8" lengthAdjust="spacingAndGlyphs" stroke="#333" stroke-width="0.5">Müşteriye Gönderildi</text>
<text x="3679.7" y="1210" font-size="10.8" fill="#666" text-anchor="start" font-weight="normal" textLength="72.5" lengthAdjust="spacingAndGlyphs">CanvasJS.com</text>
<text x="1062.7" y="1366.8" font-size="19" fill="#3b3b3b" text-anchor="start" font-weight="normal" textLength="261.5" lengthAdjust="spacingAndGlyphs">Toplam Personel Sayısı Grafiği</text>
<line x1="395.9" y1="1739.8" x2="2013.7" y2="1739.8" stroke="#e8e8e8" stroke-width="1"/>
<line x1="395.9" y1="1703.48" x2="2013.7" y2="1703.48" stroke="#e8e8e8" stroke-width="1"/>
<line x1="395.9" y1="1667.16" x2="2013.7" y2="1667.16" stroke="#e8e8e8" stroke-width="1"/>
<line x1="395.9" y1="1630.84" x2="2013.7" y2="1630.84" stroke="#e8e8e8" stroke-width="1"/>
<line x1="395.9" y1="1594.52" x2="2013.7" y2="1594.52" stroke="#e8e8e8" stroke-width="1"/>
<line x1="395.9" y1="1558.2" x2="2013.7" y2="1558.2" stroke="#e8e8e8" stroke-width="1"/>
<line x1="395.9" y1="1521.88" x2="2013.7" y2="1521.88" stroke="#e8e8e8" stroke-width="1"/>
<line x1="395.9" y1="1485.56" x2="2013.7" y2="1485.56" stroke="#e8e8e8" stroke-width="1"/>
<line x1="395.9" y1="1449.24" x2="2013.7" y2="1449.24" stroke="#e8e8e8" stroke-width="1"/>
<line x1="395.9" y1="1412.92" x2="2013.7" y2="1412.92" stroke="#e8e8e8" stroke-width="1"/>
<line x1="395.9" y1="1376.6" x2="2013.7" y2="1376.6" stroke="#e8e8e8" stroke-width="1"/>
<line x1="395.9" y1="1376.6" x2="395.9" y2="1739.8" stroke="#efefef" stroke-width="1"/>
<line x1="469.44" y1="1376.6" x2="469.44" y2="1739.8" stroke="#efefef" stroke-width="1"/>
<line x1="542.97" y1="1376.6" x2="542.97" y2="1739.8" stroke="#efefef" stroke-width="1"/>
<line x1="616.51" y1="1376.6" x2="616.51" y2="1739.8" stroke="#efefef" stroke-width="1"/>
<line x1="690.05" y1="1376.6" x2="690.05" y2="1739.8" stroke="#efefef" stroke-width="1"/>
<line x1="763.58" y1="1376.6" x2="763.58" y2="1739.8" stroke="#efefef" stroke-width="1"/>
<line x1="837.12" y1="1376.6" x2="837.12" y2="1739.8" stroke="#efefef" stroke-width="1"/>
<line x1="910.65" y1="1376.6" x2="910.65" y2="1739.8" stroke="#efefef" stroke-width="1"/>
<line x1="984.19" y1="1376.6" x2="984.19" y2="1739.8" stroke="#efefef" stroke-width="1"/>
<line x1="1057.73" y1="1376.6" x2="1057.73" y2="1739.8" stroke="#efefef" stroke-width="1"/>
<line x1="1131.26" y1="1376.6" x2="1131.26" y2="1739.8" stroke="#efefef" stroke-width="1"/>
<line x1="1204.8" y1="1376.6" x2="1204.8" y2="1739.8" stroke="#efefef" stroke-width="1"/>
<line x1="1278.34" y1="1376.6" x2="1278.34" y2="1739.8" stroke="#efefef" stroke-width="1"/>
<line x1="1351.87" y1="1376.6" x2="1351.87" y2="1739.8" stroke="#efefef" stroke-width="1"/>
<line x1="1425.41" y1="1376.6" x2="1425.41" y2="1739.8" stroke="#efefef" stroke-width="1"/>
<line x1="1498.95" y1="1376.6" x2="1498.95" y2="1739.8" stroke="#efefef" stroke-width="1"/>
<line x1="1572.48" y1="1376.6" x2="1572.48" y2="1739.8" stroke="#efefef" stroke-width="1"/>
<line x1="1646.02" y1="1376.6" x2="1646.02" y2="1739.8" stroke="#efefef" stroke-width="1"/>
<line x1="1719.55" y1="1376.6" x2="1719.55" y2="1739.8" stroke="#efefef" stroke-width="1"/>
<line x1="1793.09" y1="1376.6" x2="1793.09" y2="1739.8" stroke="#efefef" stroke-width="1"/>
<line x1="1866.63" y1="1376.6" x2="1866.63" y2="1739.8" stroke="#efefef" stroke-width="1"/>
<line x1="1940.16" y1="1376.6" x2="1940.16" y2="1739.8" stroke="#efefef" stroke-width="1"/>
<line x1="2013.7" y1="1376.6" x2="2013.7" y2="1739.8" stroke="#efefef" stroke-width="1"/>
<text x="383.5" y="1744.4" font-size="15" fill="#606060" text-anchor="end" font-weight="normal">0</text>
<line x1="389.4" y1="1739.8" x2="395.9" y2="1739.8" stroke="#bdbdbd" stroke-width="1"/>
<text x="383.5" y="1708.08" font-size="15" fill="#606060" text-anchor="end" font-weight="normal">9</text>
<line x1="389.4" y1="1703.48" x2="395.9" y2="1703.48" stroke="#bdbdbd" stroke-width="1"/>
<text x="383.5" y="1671.76" font-size="15" fill="#606060" text-anchor="end" font-weight="normal">18</text>
<line x1="389.4" y1="1667.16" x2="395.9" y2="1667.16" stroke="#bdbdbd" stroke-width="1"/>
<text x="383.5" y="1635.44" font-size="15" fill="#606060" text-anchor="end" font-weight="normal">27</text>
<line x1="389.4" y1="1630.84" x2="395.9" y2="1630.84" stroke="#bdbdbd" stroke-width="1"/>
<text x="383.5" y="1599.12" font-size="15" fill="#606060" text-anchor="end" font-weight="normal">36</text>
<line x1="389.4" y1="1594.52" x2="395.9" y2="1594.52" stroke="#bdbdbd" stroke-width="1"/>
<text x="383.5" y="1562.8" font-size="15" fill="#606060" text-anchor="end" font-weight="normal">45</text>
<line x1="389.4" y1="1558.2" x2="395.9" y2="1558.2" stroke="#bdbdbd" stroke-width="1"/>
<text x="383.5" y="1526.48" font-size="15" fill="#606060" text-anchor="end" font-weight="normal">54</text>
<line x1="389.4" y1="1521.88" x2="395.9" y2="1521.88" stroke="#bdbdbd" stroke-width="1"/>
<text x="383.5" y="1490.16" font-size="15" fill="#606060" text-anchor="end" font-weight="normal">63</text>
<line x1="389.4" y1="1485.56" x2="395.9" y2="1485.56" stroke="#bdbdbd" stroke-width="1"/>
<text x="383.5" y="1453.84" font-size="15" fill="#606060" text-anchor="end" font-weight="normal">72</text>
<line x1="389.4" y1="1449.24" x2="395.9" y2="1449.24" stroke="#bdbdbd" stroke-width="1"/>
<text x="383.5" y="1417.52" font-size="15" fill="#606060" text-anchor="end" font-weight="normal">81</text>
<line x1="389.4" y1="1412.92" x2="395.9" y2="1412.92" stroke="#bdbdbd" stroke-width="1"/>
<text x="383.5" y="1381.2" font-size="15" fill="#606060" text-anchor="end" font-weight="normal">90</text>
<line x1="389.4" y1="1376.6" x2="395.9" y2="1376.6" stroke="#bdbdbd" stroke-width="1"/>
<line x1="395.9" y1="1739.8" x2="395.9" y2="1745.3" stroke="#bdbdbd" stroke-width="1"/>
<line x1="469.44" y1="1739.8" x2="469.44" y2="1745.3" stroke="#bdbdbd" stroke-width="1"/>
<line x1="542.97" y1="1739.8" x2="542.97" y2="1745.3" stroke="#bdbdbd" stroke-width="1"/>
<line x1="616.51" y1="1739.8" x2="616.51" y2="1745.3" stroke="#bdbdbd" stroke-width="1"/>
<line x1="690.05" y1="1739.8" x2="690.05" y2="1745.3" stroke="#bdbdbd" stroke-width="1"/>
<line x1="763.58" y1="1739.8" x2="763.58" y2="1745.3" stroke="#bdbdbd" stroke-width="1"/>
<line x1="837.12" y1="1739.8" x2="837.12" y2="1745.3" stroke="#bdbdbd" stroke-width="1"/>
<line x1="910.65" y1="1739.8" x2="910.65" y2="1745.3" stroke="#bdbdbd" stroke-width="1"/>
<line x1="984.19" y1="1739.8" x2="984.19" y2="1745.3" stroke="#bdbdbd" stroke-width="1"/>
<line x1="1057.73" y1="1739.8" x2="1057.73" y2="1745.3" stroke="#bdbdbd" stroke-width="1"/>
<line x1="1131.26" y1="1739.8" x2="1131.26" y2="1745.3" stroke="#bdbdbd" stroke-width="1"/>
<line x1="1204.8" y1="1739.8" x2="1204.8" y2="1745.3" stroke="#bdbdbd" stroke-width="1"/>
<line x1="1278.34" y1="1739.8" x2="1278.34" y2="1745.3" stroke="#bdbdbd" stroke-width="1"/>
<line x1="1351.87" y1="1739.8" x2="1351.87" y2="1745.3" stroke="#bdbdbd" stroke-width="1"/>
<line x1="1425.41" y1="1739.8" x2="1425.41" y2="1745.3" stroke="#bdbdbd" stroke-width="1"/>
<line x1="1498.95" y1="1739.8" x2="1498.95" y2="1745.3" stroke="#bdbdbd" stroke-width="1"/>
<line x1="1572.48" y1="1739.8" x2="1572.48" y2="1745.3" stroke="#bdbdbd" stroke-width="1"/>
<line x1="1646.02" y1="1739.8" x2="1646.02" y2="1745.3" stroke="#bdbdbd" stroke-width="1"/>
<line x1="1719.55" y1="1739.8" x2="1719.55" y2="1745.3" stroke="#bdbdbd" stroke-width="1"/>
<line x1="1793.09" y1="1739.8" x2="1793.09" y2="1745.3" stroke="#bdbdbd" stroke-width="1"/>
<line x1="1866.63" y1="1739.8" x2="1866.63" y2="1745.3" stroke="#bdbdbd" stroke-width="1"/>
<line x1="1940.16" y1="1739.8" x2="1940.16" y2="1745.3" stroke="#bdbdbd" stroke-width="1"/>
<line x1="2013.7" y1="1739.8" x2="2013.7" y2="1745.3" stroke="#bdbdbd" stroke-width="1"/>
<line x1="395.9" y1="1739.8" x2="2013.7" y2="1739.8" stroke="#bdbdbd" stroke-width="1.5"/>
<polyline points="469.44,1420.99 616.51,1416.96 763.58,1412.92 910.65,1408.88 1057.73,1400.81 1204.8,1400.81 1351.87,1400.81 1498.95,1392.74 1646.02,1392.74 1793.09,1384.67 1940.16,1384.67" fill="none" stroke="#5a6b94" stroke-width="2.2"/>
<circle cx="469.44" cy="1420.99" r="5" fill="#3e5f9f"/>
<circle cx="616.51" cy="1416.96" r="5" fill="#3e5f9f"/>
<circle cx="763.58" cy="1412.92" r="5" fill="#3e5f9f"/>
<circle cx="910.65" cy="1408.88" r="5" fill="#3e5f9f"/>
<circle cx="1057.73" cy="1400.81" r="5" fill="#3e5f9f"/>
<circle cx="1204.8" cy="1400.81" r="5" fill="#3e5f9f"/>
<circle cx="1351.87" cy="1400.81" r="5" fill="#3e5f9f"/>
<circle cx="1498.95" cy="1392.74" r="5" fill="#3e5f9f"/>
<circle cx="1646.02" cy="1392.74" r="5" fill="#3e5f9f"/>
<circle cx="1793.09" cy="1384.67" r="5" fill="#3e5f9f"/>
<circle cx="1940.16" cy="1384.67" r="5" fill="#3e5f9f"/>
<text x="469.44" y="1763.1" font-size="14.5" fill="#606060" text-anchor="middle" font-weight="normal" textLength="47.2" lengthAdjust="spacingAndGlyphs">1/2025</text>
<text x="616.51" y="1763.1" font-size="14.5" fill="#606060" text-anchor="middle" font-weight="normal" textLength="47.2" lengthAdjust="spacingAndGlyphs">2/2025</text>
<text x="763.58" y="1763.1" font-size="14.5" fill="#606060" text-anchor="middle" font-weight="normal" textLength="47.2" lengthAdjust="spacingAndGlyphs">3/2025</text>
<text x="910.65" y="1763.1" font-size="14.5" fill="#606060" text-anchor="middle" font-weight="normal" textLength="47.2" lengthAdjust="spacingAndGlyphs">4/2025</text>
<text x="1057.73" y="1763.1" font-size="14.5" fill="#606060" text-anchor="middle" font-weight="normal" textLength="47.2" lengthAdjust="spacingAndGlyphs">5/2025</text>
<text x="1204.8" y="1763.1" font-size="14.5" fill="#606060" text-anchor="middle" font-weight="normal" textLength="47.2" lengthAdjust="spacingAndGlyphs">6/2025</text>
<text x="1351.87" y="1763.1" font-size="14.5" fill="#606060" text-anchor="middle" font-weight="normal" textLength="47.2" lengthAdjust="spacingAndGlyphs">7/2025</text>
<text x="1498.95" y="1763.1" font-size="14.5" fill="#606060" text-anchor="middle" font-weight="normal" textLength="47.2" lengthAdjust="spacingAndGlyphs">8/2025</text>
<text x="1646.02" y="1763.1" font-size="14.5" fill="#606060" text-anchor="middle" font-weight="normal" textLength="47.2" lengthAdjust="spacingAndGlyphs">9/2025</text>
<text x="1793.09" y="1763.1" font-size="14.5" fill="#606060" text-anchor="middle" font-weight="normal" textLength="55" lengthAdjust="spacingAndGlyphs">10/2025</text>
<text x="1940.16" y="1763.1" font-size="14.5" fill="#606060" text-anchor="middle" font-weight="normal" textLength="55" lengthAdjust="spacingAndGlyphs">11/2025</text>
<text x="1949.4" y="1770.8" font-size="10.8" fill="#666" text-anchor="start" font-weight="normal" textLength="72.5" lengthAdjust="spacingAndGlyphs">CanvasJS.com</text>
<text x="2799.1" y="1342.5" font-size="19" fill="#3b3b3b" text-anchor="start" font-weight="normal" textLength="248.8" lengthAdjust="spacingAndGlyphs">Toplam Müşteri Sayısı Grafiği</text>
<line x1="2137.1" y1="1729.1" x2="3743" y2="1729.1" stroke="#8c8c8c" stroke-width="1.4"/>
<line x1="2130.6" y1="1729.1" x2="2137.1" y2="1729.1" stroke="#8c8c8c" stroke-width="1.2"/>
<text x="2124" y="1734" font-size="15.5" fill="#111" text-anchor="end" font-weight="normal" stroke="#111" stroke-width="0.25">0</text>
<line x1="2137.1" y1="1634.85" x2="3743" y2="1634.85" stroke="#8c8c8c" stroke-width="1.4"/>
<line x1="2130.6" y1="1634.85" x2="2137.1" y2="1634.85" stroke="#8c8c8c" stroke-width="1.2"/>
<text x="2124" y="1639.75" font-size="15.5" fill="#111" text-anchor="end" font-weight="normal" stroke="#111" stroke-width="0.25">100</text>
<line x1="2137.1" y1="1540.6" x2="3743" y2="1540.6" stroke="#8c8c8c" stroke-width="1.4"/>
<line x1="2130.6" y1="1540.6" x2="2137.1" y2="1540.6" stroke="#8c8c8c" stroke-width="1.2"/>
<text x="2124" y="1545.5" font-size="15.5" fill="#111" text-anchor="end" font-weight="normal" stroke="#111" stroke-width="0.25">200</text>
<line x1="2137.1" y1="1446.35" x2="3743" y2="1446.35" stroke="#8c8c8c" stroke-width="1.4"/>
<line x1="2130.6" y1="1446.35" x2="2137.1" y2="1446.35" stroke="#8c8c8c" stroke-width="1.2"/>
<text x="2124" y="1451.25" font-size="15.5" fill="#111" text-anchor="end" font-weight="normal" stroke="#111" stroke-width="0.25">300</text>
<line x1="2137.1" y1="1352.1" x2="3743" y2="1352.1" stroke="#8c8c8c" stroke-width="1.4"/>
<line x1="2130.6" y1="1352.1" x2="2137.1" y2="1352.1" stroke="#8c8c8c" stroke-width="1.2"/>
<text x="2124" y="1357" font-size="15.5" fill="#111" text-anchor="end" font-weight="normal" stroke="#111" stroke-width="0.25">400</text>
<line x1="2137.1" y1="1352.1" x2="2137.1" y2="1729.1" stroke="#8c8c8c" stroke-width="1.4"/>
<line x1="2137.1" y1="1729.1" x2="3743" y2="1729.1" stroke="#8c8c8c" stroke-width="1.6"/>
<line x1="2209.6" y1="1729.1" x2="2209.6" y2="1734.6" stroke="#8c8c8c" stroke-width="1.2"/>
<text x="2209.6" y="1753.3" font-size="15" fill="#111" text-anchor="middle" font-weight="normal" textLength="52" lengthAdjust="spacingAndGlyphs" stroke="#111" stroke-width="0.25">1/2025</text>
<line x1="2355.6" y1="1729.1" x2="2355.6" y2="1734.6" stroke="#8c8c8c" stroke-width="1.2"/>
<text x="2355.6" y="1753.3" font-size="15" fill="#111" text-anchor="middle" font-weight="normal" textLength="52" lengthAdjust="spacingAndGlyphs" stroke="#111" stroke-width="0.25">2/2025</text>
<line x1="2501.6" y1="1729.1" x2="2501.6" y2="1734.6" stroke="#8c8c8c" stroke-width="1.2"/>
<text x="2501.6" y="1753.3" font-size="15" fill="#111" text-anchor="middle" font-weight="normal" textLength="52" lengthAdjust="spacingAndGlyphs" stroke="#111" stroke-width="0.25">3/2025</text>
<line x1="2647.6" y1="1729.1" x2="2647.6" y2="1734.6" stroke="#8c8c8c" stroke-width="1.2"/>
<text x="2647.6" y="1753.3" font-size="15" fill="#111" text-anchor="middle" font-weight="normal" textLength="52" lengthAdjust="spacingAndGlyphs" stroke="#111" stroke-width="0.25">4/2025</text>
<line x1="2793.6" y1="1729.1" x2="2793.6" y2="1734.6" stroke="#8c8c8c" stroke-width="1.2"/>
<text x="2793.6" y="1753.3" font-size="15" fill="#111" text-anchor="middle" font-weight="normal" textLength="52" lengthAdjust="spacingAndGlyphs" stroke="#111" stroke-width="0.25">5/2025</text>
<line x1="2939.6" y1="1729.1" x2="2939.6" y2="1734.6" stroke="#8c8c8c" stroke-width="1.2"/>
<text x="2939.6" y="1753.3" font-size="15" fill="#111" text-anchor="middle" font-weight="normal" textLength="52" lengthAdjust="spacingAndGlyphs" stroke="#111" stroke-width="0.25">6/2025</text>
<line x1="3085.6" y1="1729.1" x2="3085.6" y2="1734.6" stroke="#8c8c8c" stroke-width="1.2"/>
<text x="3085.6" y="1753.3" font-size="15" fill="#111" text-anchor="middle" font-weight="normal" textLength="52" lengthAdjust="spacingAndGlyphs" stroke="#111" stroke-width="0.25">7/2025</text>
<line x1="3231.6" y1="1729.1" x2="3231.6" y2="1734.6" stroke="#8c8c8c" stroke-width="1.2"/>
<text x="3231.6" y="1753.3" font-size="15" fill="#111" text-anchor="middle" font-weight="normal" textLength="52" lengthAdjust="spacingAndGlyphs" stroke="#111" stroke-width="0.25">8/2025</text>
<line x1="3377.6" y1="1729.1" x2="3377.6" y2="1734.6" stroke="#8c8c8c" stroke-width="1.2"/>
<text x="3377.6" y="1753.3" font-size="15" fill="#111" text-anchor="middle" font-weight="normal" textLength="52" lengthAdjust="spacingAndGlyphs" stroke="#111" stroke-width="0.25">9/2025</text>
<line x1="3523.6" y1="1729.1" x2="3523.6" y2="1734.6" stroke="#8c8c8c" stroke-width="1.2"/>
<text x="3523.6" y="1753.3" font-size="15" fill="#111" text-anchor="middle" font-weight="normal" textLength="59.5" lengthAdjust="spacingAndGlyphs" stroke="#111" stroke-width="0.25">10/2025</text>
<line x1="3669.6" y1="1729.1" x2="3669.6" y2="1734.6" stroke="#8c8c8c" stroke-width="1.2"/>
<text x="3669.6" y="1753.3" font-size="15" fill="#111" text-anchor="middle" font-weight="normal" textLength="59.5" lengthAdjust="spacingAndGlyphs" stroke="#111" stroke-width="0.25">11/2025</text>
<polyline points="2209.6,1385.09 2355.6,1422.79 2501.6,1421.84 2647.6,1422.79 2793.6,1425.61 2939.6,1423.73 3085.6,1425.61 3231.6,1426.56 3377.6,1424.67 3523.6,1425.61 3669.6,1425.61" fill="none" stroke="#2f9e5c" stroke-width="2.6"/>
<circle cx="2209.6" cy="1385.09" r="4.6" fill="#2f9e5c"/>
<circle cx="2355.6" cy="1422.79" r="4.6" fill="#2f9e5c"/>
<circle cx="2501.6" cy="1421.84" r="4.6" fill="#2f9e5c"/>
<circle cx="2647.6" cy="1422.79" r="4.6" fill="#2f9e5c"/>
<circle cx="2793.6" cy="1425.61" r="4.6" fill="#2f9e5c"/>
<circle cx="2939.6" cy="1423.73" r="4.6" fill="#2f9e5c"/>
<circle cx="3085.6" cy="1425.61" r="4.6" fill="#2f9e5c"/>
<circle cx="3231.6" cy="1426.56" r="4.6" fill="#2f9e5c"/>
<circle cx="3377.6" cy="1424.67" r="4.6" fill="#2f9e5c"/>
<circle cx="3523.6" cy="1425.61" r="4.6" fill="#2f9e5c"/>
<circle cx="3669.6" cy="1425.61" r="4.6" fill="#2f9e5c"/>
<polyline points="2209.6,1706.48 2355.6,1668.78 2501.6,1663.12 2647.6,1655.58 2793.6,1648.04 2939.6,1646.16 3085.6,1643.33 3231.6,1640.5 3377.6,1636.73 3523.6,1630.14 3669.6,1630.14" fill="none" stroke="#d24b3c" stroke-width="2.6"/>
<circle cx="2209.6" cy="1706.48" r="4.6" fill="#d24b3c"/>
<circle cx="2355.6" cy="1668.78" r="4.6" fill="#d24b3c"/>
<circle cx="2501.6" cy="1663.12" r="4.6" fill="#d24b3c"/>
<circle cx="2647.6" cy="1655.58" r="4.6" fill="#d24b3c"/>
<circle cx="2793.6" cy="1648.04" r="4.6" fill="#d24b3c"/>
<circle cx="2939.6" cy="1646.16" r="4.6" fill="#d24b3c"/>
<circle cx="3085.6" cy="1643.33" r="4.6" fill="#d24b3c"/>
<circle cx="3231.6" cy="1640.5" r="4.6" fill="#d24b3c"/>
<circle cx="3377.6" cy="1636.73" r="4.6" fill="#d24b3c"/>
<circle cx="3523.6" cy="1630.14" r="4.6" fill="#d24b3c"/>
<circle cx="3669.6" cy="1630.14" r="4.6" fill="#d24b3c"/>
<line x1="2764.4" y1="1784.9" x2="2783.8" y2="1784.9" stroke="#2f9e5c" stroke-width="3.6"/>
<circle cx="2774.1" cy="1784.9" r="3.6" fill="#2f9e5c"/>
<line x1="2925.3" y1="1784.9" x2="2945.4" y2="1784.9" stroke="#d24b3c" stroke-width="3.6"/>
<circle cx="2935.3" cy="1784.9" r="3.6" fill="#d24b3c"/>
<text x="2788.6" y="1790.5" font-size="15.5" fill="#333" text-anchor="start" font-weight="normal" textLength="122.9" lengthAdjust="spacingAndGlyphs" stroke="#333" stroke-width="0.5">Aktif Müşteriler</text>
<text x="2950.9" y="1790.5" font-size="15.5" fill="#333" text-anchor="start" font-weight="normal" textLength="129.8" lengthAdjust="spacingAndGlyphs" stroke="#333" stroke-width="0.5">Pasif (Kümülatif)</text>
<text x="3679.7" y="1795.5" font-size="10.8" fill="#666" text-anchor="start" font-weight="normal" textLength="72.5" lengthAdjust="spacingAndGlyphs">CanvasJS.com</text>
</svg>

<!-- footer text -->
<div class="abs" style="left:319.5px;top:1866px;font-size:16.5px;line-height:22px;color:#2f3a48;white-space:nowrap"><b>Copyright © 2025 MCRM</b> Yazılım ve Dijital Dönüşüm Anonim Şirketi</div>
<div class="abs" style="left:3740.5px;top:1869px;font-size:16.2px;line-height:20px;color:#2f3a48;white-space:nowrap">UPTech</div>

<!-- chat button -->
<div class="abs" style="left:3710.9px;top:1779px;width:58px;height:58px;border-radius:50%;background:#1d3769;box-shadow:0 2px 10px rgba(0,0,0,.22)"></div>
<svg class="abs" style="left:3710px;top:1778px" width="60" height="60" viewBox="0 0 60 60">
<path d="M28.1 14.5 C27 13 24 12.5 22.5 13.8 C20 13.5 18 15.5 18.2 18 C15.5 18.8 14.5 21.5 15.3 23.8 C13 25.5 12.8 29 14.8 31 C13.8 33.8 15 36.5 17.6 37.5 C17.8 40.5 20.2 42.8 23 42.5 C24.2 44.8 26.5 45.6 28.1 44.8 Z" fill="#fff"/>
<path d="M 30.00 14.50 C 31.10 13.00 34.10 12.50 35.60 13.80 C 38.10 13.50 40.10 15.50 39.90 18.00 C 42.60 18.80 43.60 21.50 42.80 23.80 C 45.10 25.50 45.30 29.00 43.30 31.00 C 44.30 33.80 43.10 36.50 40.50 37.50 C 40.30 40.50 37.90 42.80 35.10 42.50 C 33.90 44.80 31.60 45.60 30.00 44.80 Z" fill="#fff"/>
<rect x="28.1" y="15" width="1.9" height="30" fill="#7d8593"/>
</svg>
<!-- sidebar -->
<div id="sidebar">
</div>
<div class="abs" style="left:0;top:0;width:300px;height:1907px">
<svg class="abs" style="left:0;top:0" width="300" height="220" viewBox="0 0 300 220">
<path d="M12.6,73.9 H112.5 A40,40 0 0 1 152.5,113.9 V121.3 H57.4 V201.4 A44.8,44.8 0 0 1 12.6,156.6z" fill="#fff"/>
<path d="M92.2,120.3 H118.8 L105.5,167z" fill="#fff"/>
<path d="M78.5,147.1 L93.75,201.4 H80.9z" fill="#fff"/>
<path d="M128.9,147.1 L127.7,201.4 H113.7z" fill="#fff"/>
<text x="151.5" y="157" font-family="Liberation Serif" font-size="54.5" font-weight="bold" fill="#fff" textLength="126.5" lengthAdjust="spacingAndGlyphs">CRM</text>
<rect x="152" y="165" width="125.6" height="5" fill="#2b7a3c"/>
<text x="153.4" y="185.5" font-family="Liberation Serif" font-size="13.4" fill="#eef0f6" textLength="122.2" lengthAdjust="spacingAndGlyphs">Müşavir ve Mükellef</text>
<text x="168" y="201.2" font-family="Liberation Serif" font-size="13.4" fill="#eef0f6" textLength="94.3" lengthAdjust="spacingAndGlyphs">Yönetim Sistemi</text>
</svg>
<div class="mi" style="top:245.9px">MÜŞTERI</div>
<div class="sep" style="top:270.2px"></div>
<svg class="chev" style="top:247px" width="12" height="16" viewBox="0 0 12 16"><path d="M9.2,1.9 L3.4,7.2 L9.2,12.3" fill="none" stroke="#eef2fb" stroke-width="2.7" stroke-linecap="round" stroke-linejoin="round"/></svg>
<svg class="ico" style="top:245.5px" width="22" height="18" viewBox="0 0 22 18"><path d="M1,17 V2 h3.5 v5.5 l4.5,-3.5 v3.5 l4.5,-3.5 v3.5 l5,-3.5 v13 z" fill="#f3f5fb"/></svg>
<div class="mi" style="top:295.11px">EVRAK YÖNETIMI</div>
<div class="sep" style="top:319.41px"></div>
<svg class="chev" style="top:296.21px" width="12" height="16" viewBox="0 0 12 16"><path d="M9.2,1.9 L3.4,7.2 L9.2,12.3" fill="none" stroke="#eef2fb" stroke-width="2.7" stroke-linecap="round" stroke-linejoin="round"/></svg>
<svg class="ico" style="top:294.71px" width="22" height="18" viewBox="0 0 22 18"><rect x="1.5" y="2" width="17" height="14" rx="1.5" fill="none" stroke="#f3f5fb" stroke-width="2"/><path d="M4,6h2M8,6h8M4,9h2M8,9h8M4,12h2M8,12h8" stroke="#f3f5fb" stroke-width="1.6"/></svg>
<div class="mi" style="top:344.32px">İNCELEME VE DAVA TAKIP</div>
<div class="sep" style="top:368.62px"></div>
<svg class="chev" style="top:345.42px" width="12" height="16" viewBox="0 0 12 16"><path d="M9.2,1.9 L3.4,7.2 L9.2,12.3" fill="none" stroke="#eef2fb" stroke-width="2.7" stroke-linecap="round" stroke-linejoin="round"/></svg>
<svg class="ico" style="top:343.92px" width="22" height="18" viewBox="0 0 22 18"><rect x="0.3" y="3" width="13.6" height="15" rx="1.5" fill="#f3f5fb"/><rect x="4.6" y="0.8" width="5" height="4" rx="1" fill="#f3f5fb"/><path d="M3.5,9.5h7M3.5,12.5h7M3.5,15h5" stroke="#c9cfdc" stroke-width="1"/></svg>
<div class="mi" style="top:393.53px">DENETIM</div>
<div class="sep" style="top:417.83px"></div>
<svg class="chev" style="top:394.63px" width="12" height="16" viewBox="0 0 12 16"><path d="M9.2,1.9 L3.4,7.2 L9.2,12.3" fill="none" stroke="#eef2fb" stroke-width="2.7" stroke-linecap="round" stroke-linejoin="round"/></svg>
<svg class="ico" style="top:393.13px" width="22" height="18" viewBox="0 0 22 18"><path d="M2,3h16M8,7h10M8,11h10M2,15h16" stroke="#f3f5fb" stroke-width="2"/><path d="M6,6 L2,9 L6,12z" fill="#f3f5fb"/></svg>
<div class="mi" style="top:442.74px">TEKLIF</div>
<div class="sep" style="top:467.04px"></div>
<svg class="chev" style="top:443.84px" width="12" height="16" viewBox="0 0 12 16"><path d="M9.2,1.9 L3.4,7.2 L9.2,12.3" fill="none" stroke="#eef2fb" stroke-width="2.7" stroke-linecap="round" stroke-linejoin="round"/></svg>
<svg class="ico" style="top:442.34px" width="22" height="18" viewBox="0 0 22 18"><path d="M0.5,5 L4,5 L7,3 L11,4 L8,7 L10,8.5 L13,6 L15,4 L18,5 L21.5,5 V11 L18,11 L12,15.5 L10,14 L8,15 L6,13 L3,11 H0.5z" fill="#f3f5fb"/><path d="M8,7 L11,9.5 L14,7" fill="none" stroke="#1f3359" stroke-width="1.2"/></svg>
<div class="mi" style="top:491.95px">MAHSUP</div>
<div class="sep" style="top:516.25px"></div>
<svg class="chev" style="top:493.05px" width="12" height="16" viewBox="0 0 12 16"><path d="M9.2,1.9 L3.4,7.2 L9.2,12.3" fill="none" stroke="#eef2fb" stroke-width="2.7" stroke-linecap="round" stroke-linejoin="round"/></svg>
<svg class="ico" style="top:491.55px" width="22" height="18" viewBox="0 0 22 18"><path d="M8,4 H3 V16 H15 V11" fill="none" stroke="#f3f5fb" stroke-width="2.2"/><path d="M9,11 L17,3 M12,2 H18 V8" fill="none" stroke="#f3f5fb" stroke-width="2.2"/></svg>
<div class="mi" style="top:541.16px">ANALIZ</div>
<div class="sep" style="top:565.46px"></div>
<svg class="chev" style="top:542.26px" width="12" height="16" viewBox="0 0 12 16"><path d="M9.2,1.9 L3.4,7.2 L9.2,12.3" fill="none" stroke="#eef2fb" stroke-width="2.7" stroke-linecap="round" stroke-linejoin="round"/></svg>
<svg class="ico" style="top:540.76px" width="22" height="18" viewBox="0 0 22 18"><path d="M2,2 V16 H18" fill="none" stroke="#f3f5fb" stroke-width="2"/><path d="M4,13 L8,8 L11,11 L17,5" fill="none" stroke="#f3f5fb" stroke-width="2"/></svg>
<div class="mi" style="top:590.37px">ÇAPRAZ SATIŞ</div>
<div class="sep" style="top:614.67px"></div>
<svg class="chev" style="top:591.47px" width="12" height="16" viewBox="0 0 12 16"><path d="M9.2,1.9 L3.4,7.2 L9.2,12.3" fill="none" stroke="#eef2fb" stroke-width="2.7" stroke-linecap="round" stroke-linejoin="round"/></svg>
<svg class="ico" style="top:589.97px" width="22" height="18" viewBox="0 0 22 18"><rect x="2" y="8" width="16" height="9" rx="1.5" fill="#f3f5fb"/><rect x="5" y="2" width="10" height="5" fill="#f3f5fb"/><path d="M5,11h2M9,11h2M13,11h2M5,14h10" stroke="#1f3359" stroke-width="1.2"/></svg>
<div class="mi" style="top:639.58px">TOPLANTI</div>
<div class="sep" style="top:663.88px"></div>
<svg class="chev" style="top:640.68px" width="12" height="16" viewBox="0 0 12 16"><path d="M9.2,1.9 L3.4,7.2 L9.2,12.3" fill="none" stroke="#eef2fb" stroke-width="2.7" stroke-linecap="round" stroke-linejoin="round"/></svg>
<svg class="ico" style="top:639.18px" width="22" height="18" viewBox="0 0 22 18"><path d="M2,3 H18 V13 H8 L4,17 V13 H2z" fill="none" stroke="#f3f5fb" stroke-width="2" stroke-linejoin="round"/></svg>
<div class="mi" style="top:688.79px">GÖREV</div>
<div class="sep" style="top:713.09px"></div>
<svg class="chev" style="top:689.89px" width="12" height="16" viewBox="0 0 12 16"><path d="M9.2,1.9 L3.4,7.2 L9.2,12.3" fill="none" stroke="#eef2fb" stroke-width="2.7" stroke-linecap="round" stroke-linejoin="round"/></svg>
<svg class="ico" style="top:688.39px" width="22" height="18" viewBox="0 0 22 18"><path d="M2,4 l2,2 l3,-4 M2,10 l2,2 l3,-4" fill="none" stroke="#f3f5fb" stroke-width="1.6"/><path d="M9,4h9M9,10h9M9,16h9" stroke="#f3f5fb" stroke-width="2"/><circle cx="4" cy="16" r="1.6" fill="#f3f5fb"/></svg>
<div class="mi" style="top:738px">AKTIVITELER</div>
<div class="sep" style="top:762.3px"></div>
<svg class="chev" style="top:739.1px" width="12" height="16" viewBox="0 0 12 16"><path d="M9.2,1.9 L3.4,7.2 L9.2,12.3" fill="none" stroke="#eef2fb" stroke-width="2.7" stroke-linecap="round" stroke-linejoin="round"/></svg>
<svg class="ico" style="top:737.6px" width="22" height="18" viewBox="0 0 22 18"><rect x="2" y="3" width="15" height="15" rx="2" fill="#f3f5fb"/><rect x="5" y="0.5" width="2" height="4" fill="#f3f5fb"/><rect x="12" y="0.5" width="2" height="4" fill="#f3f5fb"/><path d="M6,11 l2.5,2.5 l4.5,-5" fill="none" stroke="#1f3359" stroke-width="1.6"/></svg>
<div class="mi" style="top:787.21px">FINANS</div>
<div class="sep" style="top:811.51px"></div>
<svg class="chev" style="top:788.31px" width="12" height="16" viewBox="0 0 12 16"><path d="M9.2,1.9 L3.4,7.2 L9.2,12.3" fill="none" stroke="#eef2fb" stroke-width="2.7" stroke-linecap="round" stroke-linejoin="round"/></svg>
<svg class="ico" style="top:786.81px" width="22" height="18" viewBox="0 0 22 18"><rect x="3" y="1" width="13" height="17" rx="1.5" fill="#f3f5fb"/><rect x="5" y="3" width="9" height="3.5" fill="#1f3359"/><path d="M5.5,9.5h2M9,9.5h1.5M12,9.5h2M5.5,12.5h2M9,12.5h1.5M12,12.5h2M5.5,15.5h2M9,15.5h1.5M12,15.5h2" stroke="#1f3359" stroke-width="1.5"/></svg>
<div class="mi" style="top:836.42px">BÜTÇE</div>
<div class="sep" style="top:860.72px"></div>
<svg class="chev" style="top:837.52px" width="12" height="16" viewBox="0 0 12 16"><path d="M9.2,1.9 L3.4,7.2 L9.2,12.3" fill="none" stroke="#eef2fb" stroke-width="2.7" stroke-linecap="round" stroke-linejoin="round"/></svg>
<svg class="ico" style="top:836.02px" width="22" height="18" viewBox="0 0 22 18"><ellipse cx="11" cy="4" rx="7" ry="2.6" fill="#f3f5fb"/><path d="M4,6 v3 a7,2.6 0 0 0 14,0 v-3" fill="#f3f5fb"/><ellipse cx="8" cy="11" rx="7" ry="2.6" fill="#f3f5fb" stroke="#1f3359" stroke-width="0.8"/><path d="M1,12 v3 a7,2.6 0 0 0 14,0 v-3" fill="#f3f5fb"/></svg>
<div class="mi" style="top:885.63px">AIDAT YÖNETIMI</div>
<div class="sep" style="top:909.93px"></div>
<svg class="chev" style="top:886.73px" width="12" height="16" viewBox="0 0 12 16"><path d="M9.2,1.9 L3.4,7.2 L9.2,12.3" fill="none" stroke="#eef2fb" stroke-width="2.7" stroke-linecap="round" stroke-linejoin="round"/></svg>
<svg class="ico" style="top:885.23px" width="22" height="18" viewBox="0 0 22 18"><circle cx="10" cy="9.5" r="8" fill="#f3f5fb"/><path d="M7.5,7.5 a2.5,2.5 0 1 1 3.5,2.3 c-1,0.5 -1,1 -1,2" fill="none" stroke="#1f3359" stroke-width="1.6"/><circle cx="10" cy="14" r="1" fill="#1f3359"/></svg>
<div class="mi" style="top:934.84px">İK YÖNETIMI</div>
<div class="sep" style="top:959.14px"></div>
<svg class="chev" style="top:935.94px" width="12" height="16" viewBox="0 0 12 16"><path d="M9.2,1.9 L3.4,7.2 L9.2,12.3" fill="none" stroke="#eef2fb" stroke-width="2.7" stroke-linecap="round" stroke-linejoin="round"/></svg>
<svg class="ico" style="top:934.44px" width="22" height="18" viewBox="0 0 22 18"><circle cx="10" cy="5" r="4" fill="#f3f5fb"/><path d="M2,18 C2,12 5,10 10,10 C15,10 18,12 18,18z" fill="#f3f5fb"/></svg>
<div class="mi" style="top:984.05px">TEDARIKÇI YÖNETIMI</div>
<div class="sep" style="top:1008.35px"></div>
<svg class="chev" style="top:985.15px" width="12" height="16" viewBox="0 0 12 16"><path d="M9.2,1.9 L3.4,7.2 L9.2,12.3" fill="none" stroke="#eef2fb" stroke-width="2.7" stroke-linecap="round" stroke-linejoin="round"/></svg>
<svg class="ico" style="top:983.65px" width="22" height="18" viewBox="0 0 22 18"><path d="M0.5,6.5 L11,1.5 L21.5,6.5 V17 H0.5z" fill="#f3f5fb"/><rect x="4.5" y="8.5" width="13" height="8.5" fill="#1f3359"/><path d="M5.5,10.5h11M5.5,12.7h11M5.5,14.9h11" stroke="#f3f5fb" stroke-width="1.1"/></svg>
<div class="mi" style="top:1033.26px">REHBER</div>
<div class="sep" style="top:1057.56px"></div>
<svg class="chev" style="top:1034.36px" width="12" height="16" viewBox="0 0 12 16"><path d="M9.2,1.9 L3.4,7.2 L9.2,12.3" fill="none" stroke="#eef2fb" stroke-width="2.7" stroke-linecap="round" stroke-linejoin="round"/></svg>
<svg class="ico" style="top:1032.86px" width="22" height="18" viewBox="0 0 22 18"><rect x="3" y="1" width="14" height="17" rx="1.5" fill="#f3f5fb"/><path d="M6,5h8M6,8h8" stroke="#1f3359" stroke-width="1.2"/><path d="M3,14h14" stroke="#1f3359" stroke-width="1.2"/></svg>
<div class="mi" style="top:1082.47px">VERILER</div>
<div class="sep" style="top:1106.77px"></div>
<svg class="chev" style="top:1083.57px" width="12" height="16" viewBox="0 0 12 16"><path d="M9.2,1.9 L3.4,7.2 L9.2,12.3" fill="none" stroke="#eef2fb" stroke-width="2.7" stroke-linecap="round" stroke-linejoin="round"/></svg>
<svg class="ico" style="top:1082.07px" width="22" height="18" viewBox="0 0 22 18"><ellipse cx="10" cy="3.5" rx="7.5" ry="2.8" fill="#f3f5fb"/><path d="M2.5,5 v3.5 a7.5,2.8 0 0 0 15,0 v-3.5 a7.5,2.8 0 0 1 -15,0z M2.5,10 v3.5 a7.5,2.8 0 0 0 15,0 v-3.5 a7.5,2.8 0 0 1 -15,0z" fill="#f3f5fb"/></svg>
<div class="mi" style="top:1131.68px">YÖNETIM</div>
<div class="sep" style="top:1155.98px"></div>
<svg class="chev" style="top:1132.78px" width="12" height="16" viewBox="0 0 12 16"><path d="M9.2,1.9 L3.4,7.2 L9.2,12.3" fill="none" stroke="#eef2fb" stroke-width="2.7" stroke-linecap="round" stroke-linejoin="round"/></svg>
<svg class="ico" style="top:1131.28px" width="22" height="18" viewBox="0 0 22 18"><circle cx="5" cy="4" r="2.6" fill="#f3f5fb"/><circle cx="15" cy="4" r="2.6" fill="#f3f5fb"/><circle cx="10" cy="7" r="3" fill="#f3f5fb"/><path d="M0.5,12 c0,-3 2,-4 4.5,-4 c1,0 2,0.4 2.6,1 M19.5,12 c0,-3 -2,-4 -4.5,-4" fill="#f3f5fb"/><path d="M4,18 c0,-4 2.5,-6 6,-6 c3.5,0 6,2 6,6z" fill="#f3f5fb"/><circle cx="15.5" cy="14.5" r="3" fill="#f3f5fb" stroke="#1f3359" stroke-width="1"/></svg>
</div>

<!-- scrollbar -->
<div id="scroll"></div>
<svg class="abs" style="left:3817px;top:3px" width="22" height="1904" viewBox="0 0 22 1904">
<path d="M4.3,17.2 L11.5,6.4 L18.8,17.2z" fill="#8a8a8a" stroke="#8a8a8a" stroke-width="1" stroke-linejoin="round"/>
<rect x="5" y="27" width="13" height="716.5" rx="6.5" fill="#8a8a8a"/>
<path d="M4,1891 L18.5,1891 L11.3,1900.7z" fill="#8a8a8a" stroke="#8a8a8a" stroke-width="1" stroke-linejoin="round"/>
</svg>
</body></html>
